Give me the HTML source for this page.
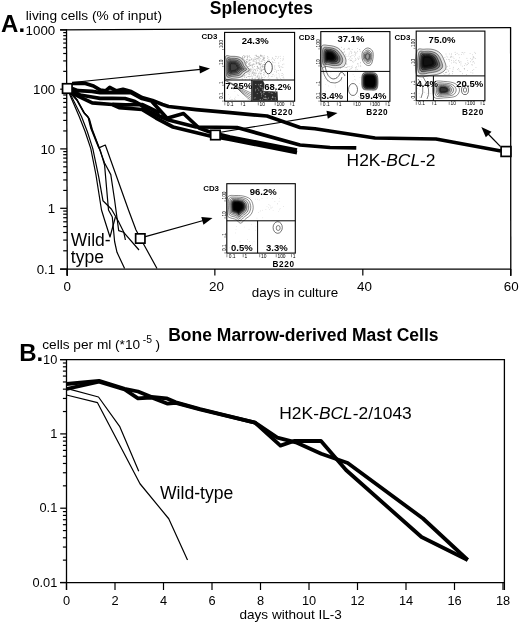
<!DOCTYPE html>
<html><head><meta charset="utf-8"><style>
html,body{margin:0;padding:0;background:#fff;width:520px;height:624px;overflow:hidden}
svg{display:block;filter:grayscale(100%)}
text{font-family:"Liberation Sans",sans-serif;fill:#000}
</style></head><body>
<svg width="520" height="624" viewBox="0 0 520 624">
<rect width="520" height="624" fill="#fff"/>
<line x1="60" y1="29.8" x2="511" y2="27.7" stroke="#000" stroke-width="1.3"/>
<line x1="66.5" y1="29.2" x2="67.3" y2="276" stroke="#000" stroke-width="1.3"/>
<line x1="60" y1="269.1" x2="511" y2="269.1" stroke="#000" stroke-width="1.3"/>
<line x1="510.6" y1="27.2" x2="510.8" y2="276" stroke="#000" stroke-width="1.3"/>
<line x1="60.2" y1="269.1" x2="67" y2="269.1" stroke="#000" stroke-width="1.25"/>
<line x1="63.2" y1="250.8" x2="67" y2="250.8" stroke="#000" stroke-width="1.2"/>
<line x1="63.2" y1="240.09" x2="67" y2="240.09" stroke="#000" stroke-width="1.2"/>
<line x1="63.2" y1="232.49" x2="67" y2="232.49" stroke="#000" stroke-width="1.2"/>
<line x1="63.2" y1="226.6" x2="67" y2="226.6" stroke="#000" stroke-width="1.2"/>
<line x1="63.2" y1="221.79" x2="67" y2="221.79" stroke="#000" stroke-width="1.2"/>
<line x1="63.2" y1="217.72" x2="67" y2="217.72" stroke="#000" stroke-width="1.2"/>
<line x1="63.2" y1="214.19" x2="67" y2="214.19" stroke="#000" stroke-width="1.2"/>
<line x1="63.2" y1="211.08" x2="67" y2="211.08" stroke="#000" stroke-width="1.2"/>
<line x1="60.2" y1="208.3" x2="67" y2="208.3" stroke="#000" stroke-width="1.25"/>
<line x1="63.2" y1="190.42" x2="67" y2="190.42" stroke="#000" stroke-width="1.2"/>
<line x1="63.2" y1="179.96" x2="67" y2="179.96" stroke="#000" stroke-width="1.2"/>
<line x1="63.2" y1="172.54" x2="67" y2="172.54" stroke="#000" stroke-width="1.2"/>
<line x1="63.2" y1="166.78" x2="67" y2="166.78" stroke="#000" stroke-width="1.2"/>
<line x1="63.2" y1="162.08" x2="67" y2="162.08" stroke="#000" stroke-width="1.2"/>
<line x1="63.2" y1="158.1" x2="67" y2="158.1" stroke="#000" stroke-width="1.2"/>
<line x1="63.2" y1="154.66" x2="67" y2="154.66" stroke="#000" stroke-width="1.2"/>
<line x1="63.2" y1="151.62" x2="67" y2="151.62" stroke="#000" stroke-width="1.2"/>
<line x1="60.2" y1="148.9" x2="67" y2="148.9" stroke="#000" stroke-width="1.25"/>
<line x1="63.2" y1="130.93" x2="67" y2="130.93" stroke="#000" stroke-width="1.2"/>
<line x1="63.2" y1="120.42" x2="67" y2="120.42" stroke="#000" stroke-width="1.2"/>
<line x1="63.2" y1="112.96" x2="67" y2="112.96" stroke="#000" stroke-width="1.2"/>
<line x1="63.2" y1="107.17" x2="67" y2="107.17" stroke="#000" stroke-width="1.2"/>
<line x1="63.2" y1="102.44" x2="67" y2="102.44" stroke="#000" stroke-width="1.2"/>
<line x1="63.2" y1="98.45" x2="67" y2="98.45" stroke="#000" stroke-width="1.2"/>
<line x1="63.2" y1="94.99" x2="67" y2="94.99" stroke="#000" stroke-width="1.2"/>
<line x1="63.2" y1="91.93" x2="67" y2="91.93" stroke="#000" stroke-width="1.2"/>
<line x1="60.2" y1="89.2" x2="67" y2="89.2" stroke="#000" stroke-width="1.25"/>
<line x1="63.2" y1="71.35" x2="67" y2="71.35" stroke="#000" stroke-width="1.2"/>
<line x1="63.2" y1="60.91" x2="67" y2="60.91" stroke="#000" stroke-width="1.2"/>
<line x1="63.2" y1="53.5" x2="67" y2="53.5" stroke="#000" stroke-width="1.2"/>
<line x1="63.2" y1="47.75" x2="67" y2="47.75" stroke="#000" stroke-width="1.2"/>
<line x1="63.2" y1="43.06" x2="67" y2="43.06" stroke="#000" stroke-width="1.2"/>
<line x1="63.2" y1="39.09" x2="67" y2="39.09" stroke="#000" stroke-width="1.2"/>
<line x1="63.2" y1="35.65" x2="67" y2="35.65" stroke="#000" stroke-width="1.2"/>
<line x1="63.2" y1="32.61" x2="67" y2="32.61" stroke="#000" stroke-width="1.2"/>
<line x1="60.2" y1="29.9" x2="67" y2="29.9" stroke="#000" stroke-width="1.25"/>
<text x="55.2" y="34.5" font-size="13.3" font-weight="normal" text-anchor="end" >1000</text>
<text x="55.2" y="93.8" font-size="13.3" font-weight="normal" text-anchor="end" >100</text>
<text x="55.2" y="153.5" font-size="13.3" font-weight="normal" text-anchor="end" >10</text>
<text x="55.2" y="212.9" font-size="13.3" font-weight="normal" text-anchor="end" >1</text>
<text x="55.2" y="273.7" font-size="13.3" font-weight="normal" text-anchor="end" >0.1</text>
<line x1="66.9" y1="269" x2="66.9" y2="275.6" stroke="#000" stroke-width="1.2"/>
<text x="67.2" y="291.4" font-size="13.4" font-weight="normal" text-anchor="middle" >0</text>
<line x1="214.86" y1="269" x2="214.86" y2="275.6" stroke="#000" stroke-width="1.2"/>
<text x="216.46" y="291.4" font-size="13.4" font-weight="normal" text-anchor="middle" >20</text>
<line x1="362.82" y1="269" x2="362.82" y2="275.6" stroke="#000" stroke-width="1.2"/>
<text x="364.42" y="291.4" font-size="13.4" font-weight="normal" text-anchor="middle" >40</text>
<line x1="510.78" y1="269" x2="510.78" y2="275.6" stroke="#000" stroke-width="1.2"/>
<text x="511.18" y="291.4" font-size="13.4" font-weight="normal" text-anchor="middle" >60</text>
<text x="251.8" y="297.2" font-size="13.4" font-weight="normal" text-anchor="start" >days in culture</text>
<text x="25.8" y="19.9" font-size="13.7" font-weight="normal" text-anchor="start" >living cells (% of input)</text>
<text x="1.1" y="31.8" font-size="24" font-weight="bold" text-anchor="start" >A.</text>
<text x="209.8" y="13.9" font-size="17.5" font-weight="bold" text-anchor="start" >Splenocytes</text>
<line x1="60" y1="359.6" x2="504.4" y2="359.6" stroke="#000" stroke-width="1.3"/>
<line x1="66.5" y1="359" x2="66.5" y2="590" stroke="#000" stroke-width="1.3"/>
<line x1="60" y1="582.6" x2="504.4" y2="582.6" stroke="#000" stroke-width="1.3"/>
<line x1="504.4" y1="359" x2="504.4" y2="590" stroke="#000" stroke-width="1.3"/>
<line x1="60.2" y1="582.5" x2="66.5" y2="582.5" stroke="#000" stroke-width="1.25"/>
<line x1="62.9" y1="560.13" x2="66.5" y2="560.13" stroke="#000" stroke-width="1.2"/>
<line x1="62.9" y1="547.05" x2="66.5" y2="547.05" stroke="#000" stroke-width="1.2"/>
<line x1="62.9" y1="537.77" x2="66.5" y2="537.77" stroke="#000" stroke-width="1.2"/>
<line x1="62.9" y1="530.57" x2="66.5" y2="530.57" stroke="#000" stroke-width="1.2"/>
<line x1="62.9" y1="524.68" x2="66.5" y2="524.68" stroke="#000" stroke-width="1.2"/>
<line x1="62.9" y1="519.71" x2="66.5" y2="519.71" stroke="#000" stroke-width="1.2"/>
<line x1="62.9" y1="515.4" x2="66.5" y2="515.4" stroke="#000" stroke-width="1.2"/>
<line x1="62.9" y1="511.6" x2="66.5" y2="511.6" stroke="#000" stroke-width="1.2"/>
<line x1="60.2" y1="508.2" x2="66.5" y2="508.2" stroke="#000" stroke-width="1.25"/>
<line x1="62.9" y1="485.83" x2="66.5" y2="485.83" stroke="#000" stroke-width="1.2"/>
<line x1="62.9" y1="472.75" x2="66.5" y2="472.75" stroke="#000" stroke-width="1.2"/>
<line x1="62.9" y1="463.47" x2="66.5" y2="463.47" stroke="#000" stroke-width="1.2"/>
<line x1="62.9" y1="456.27" x2="66.5" y2="456.27" stroke="#000" stroke-width="1.2"/>
<line x1="62.9" y1="450.38" x2="66.5" y2="450.38" stroke="#000" stroke-width="1.2"/>
<line x1="62.9" y1="445.41" x2="66.5" y2="445.41" stroke="#000" stroke-width="1.2"/>
<line x1="62.9" y1="441.1" x2="66.5" y2="441.1" stroke="#000" stroke-width="1.2"/>
<line x1="62.9" y1="437.3" x2="66.5" y2="437.3" stroke="#000" stroke-width="1.2"/>
<line x1="60.2" y1="433.9" x2="66.5" y2="433.9" stroke="#000" stroke-width="1.25"/>
<line x1="62.9" y1="411.53" x2="66.5" y2="411.53" stroke="#000" stroke-width="1.2"/>
<line x1="62.9" y1="398.45" x2="66.5" y2="398.45" stroke="#000" stroke-width="1.2"/>
<line x1="62.9" y1="389.17" x2="66.5" y2="389.17" stroke="#000" stroke-width="1.2"/>
<line x1="62.9" y1="381.97" x2="66.5" y2="381.97" stroke="#000" stroke-width="1.2"/>
<line x1="62.9" y1="376.08" x2="66.5" y2="376.08" stroke="#000" stroke-width="1.2"/>
<line x1="62.9" y1="371.11" x2="66.5" y2="371.11" stroke="#000" stroke-width="1.2"/>
<line x1="62.9" y1="366.8" x2="66.5" y2="366.8" stroke="#000" stroke-width="1.2"/>
<line x1="62.9" y1="363" x2="66.5" y2="363" stroke="#000" stroke-width="1.2"/>
<line x1="60.2" y1="359.6" x2="66.5" y2="359.6" stroke="#000" stroke-width="1.25"/>
<text x="57.3" y="363.7" font-size="12.8" font-weight="normal" text-anchor="end" >10</text>
<text x="57.3" y="438" font-size="12.8" font-weight="normal" text-anchor="end" >1</text>
<text x="57.3" y="512.3" font-size="12.8" font-weight="normal" text-anchor="end" >0.1</text>
<text x="57.3" y="586.6" font-size="12.8" font-weight="normal" text-anchor="end" >0.01</text>
<line x1="66.5" y1="582.6" x2="66.5" y2="590" stroke="#000" stroke-width="1.2"/>
<text x="66.5" y="604.6" font-size="12.8" font-weight="normal" text-anchor="middle" >0</text>
<line x1="115" y1="582.6" x2="115" y2="590" stroke="#000" stroke-width="1.2"/>
<text x="115" y="604.6" font-size="12.8" font-weight="normal" text-anchor="middle" >2</text>
<line x1="163.5" y1="582.6" x2="163.5" y2="590" stroke="#000" stroke-width="1.2"/>
<text x="163.5" y="604.6" font-size="12.8" font-weight="normal" text-anchor="middle" >4</text>
<line x1="212" y1="582.6" x2="212" y2="590" stroke="#000" stroke-width="1.2"/>
<text x="212" y="604.6" font-size="12.8" font-weight="normal" text-anchor="middle" >6</text>
<line x1="260.5" y1="582.6" x2="260.5" y2="590" stroke="#000" stroke-width="1.2"/>
<text x="260.5" y="604.6" font-size="12.8" font-weight="normal" text-anchor="middle" >8</text>
<line x1="309" y1="582.6" x2="309" y2="590" stroke="#000" stroke-width="1.2"/>
<text x="309" y="604.6" font-size="12.8" font-weight="normal" text-anchor="middle" >10</text>
<line x1="357.5" y1="582.6" x2="357.5" y2="590" stroke="#000" stroke-width="1.2"/>
<text x="357.5" y="604.6" font-size="12.8" font-weight="normal" text-anchor="middle" >12</text>
<line x1="406" y1="582.6" x2="406" y2="590" stroke="#000" stroke-width="1.2"/>
<text x="406" y="604.6" font-size="12.8" font-weight="normal" text-anchor="middle" >14</text>
<line x1="454.5" y1="582.6" x2="454.5" y2="590" stroke="#000" stroke-width="1.2"/>
<text x="454.5" y="604.6" font-size="12.8" font-weight="normal" text-anchor="middle" >16</text>
<line x1="503" y1="582.6" x2="503" y2="590" stroke="#000" stroke-width="1.2"/>
<text x="503" y="604.6" font-size="12.8" font-weight="normal" text-anchor="middle" >18</text>
<text x="239.5" y="618.8" font-size="13.55" font-weight="normal" text-anchor="start" >days without IL-3</text>
<text x="42.3" y="349" font-size="13.65" font-weight="normal" text-anchor="start" >cells per ml (*10</text>
<text x="142.8" y="342.8" font-size="10.4" font-weight="normal" text-anchor="start" >-5</text>
<text x="155.6" y="349" font-size="13.65" font-weight="normal" text-anchor="start" >)</text>
<text x="19.2" y="360.6" font-size="24" font-weight="bold" text-anchor="start" >B.</text>
<text x="168.2" y="341.4" font-size="17.5" font-weight="bold" text-anchor="start" >Bone Marrow-derived Mast Cells</text>
<polyline points="72,83.5 85.5,83.4 93.5,86 100.3,90.1 105.6,90.8 109.7,87.4 116.4,90.8 123,89.4 131.2,91.5 142,97.5 152.5,100.5 162.5,104.5 168.5,106.5 196,109.6 230,112.7 267,116 300,127.5 315,128.75 375,138 436,139 501,151" fill="none" stroke="#000" stroke-width="3.7" stroke-linejoin="round" stroke-linecap="butt" />
<polyline points="72,88.5 78,90.7 92,91.3 100,92.6 110,92.3 131,92.6 142,98.5 151.5,101 167,118.3 183.5,113.5 199,128 210,132 230,137 297,150" fill="none" stroke="#000" stroke-width="3.7" stroke-linejoin="round" stroke-linecap="butt" />
<polyline points="72,91 80,95 92,97 100,98.3 112,98.3 125,98.5 135,101.5 141,105 150,112 168.5,120 196,127 237,127.5 300,145 330,147.5 356.3,147.9" fill="none" stroke="#000" stroke-width="3.7" stroke-linejoin="round" stroke-linecap="butt" />
<polyline points="72,93 82.8,98.4 92.2,102.9 112.4,104.5 119.1,107.6 142,109.5 156,118 173,127 210,136 230,139.5 297,152.6" fill="none" stroke="#000" stroke-width="3.7" stroke-linejoin="round" stroke-linecap="butt" />
<polyline points="112.4,104.3 125.8,104.9 142,104.5 160,113" fill="none" stroke="#000" stroke-width="3.7" stroke-linejoin="round" stroke-linecap="butt" />
<polyline points="69.5,94 79.3,116.8 85,131.3 90.8,148.6 95.9,174.5 101.5,210 104.6,220 110,237 115.4,217" fill="none" stroke="#000" stroke-width="1.2" stroke-linejoin="round" stroke-linecap="butt" />
<polyline points="70.3,94 81.6,116.8 87.2,131.3 92.8,148.6 98.8,177.4 103,200.8 111.5,209.2 118.5,221.5 123.8,232.3 125.4,240" fill="none" stroke="#000" stroke-width="1.2" stroke-linejoin="round" stroke-linecap="butt" />
<polyline points="71,94 76.4,99.5 83.6,112.5 88,116.8 90.8,128.4 96.6,142.8 98.8,147.9 105.3,145 128.5,210 136,230 140.4,238 143,243 157,268.5" fill="none" stroke="#000" stroke-width="1.2" stroke-linejoin="round" stroke-linecap="butt" />
<polyline points="71.6,94 77,100 84.2,113 88.7,117.8 91.6,129 97.2,143 104.6,163 110.8,174.6 114.6,200 118.7,230.6 123.7,232.3 139,250" fill="none" stroke="#000" stroke-width="1.2" stroke-linejoin="round" stroke-linecap="butt" />
<polyline points="72.2,94 77.6,100.5 84.8,113.5 89.4,118.8 92.4,129.6 97.6,143.5 100.5,151 104.6,165.4 108.5,210 112.3,217 114.6,241.5 117,252.3 124.6,268.5" fill="none" stroke="#000" stroke-width="1.2" stroke-linejoin="round" stroke-linecap="butt" />
<line x1="72.3" y1="82.5" x2="200.55" y2="69.37" stroke="#000" stroke-width="1.2"/>
<polygon points="210,68.4 199.96,73.45 199.15,65.49" fill="#000"/>
<line x1="219" y1="132.5" x2="328.13" y2="114.54" stroke="#000" stroke-width="1.2"/>
<polygon points="337.5,113 327.79,118.65 326.49,110.76" fill="#000"/>
<line x1="500.3" y1="146.3" x2="487.96" y2="133.77" stroke="#000" stroke-width="1.2"/>
<polygon points="481.3,127 491.52,131.68 485.82,137.29" fill="#000"/>
<line x1="144.5" y1="236.8" x2="203.34" y2="220.53" stroke="#000" stroke-width="1.2"/>
<polygon points="212.5,218 203.45,224.65 201.31,216.94" fill="#000"/>
<rect x="62.55" y="83.75" width="9.5" height="9.5" fill="#fff" stroke="#000" stroke-width="1.7"/>
<rect x="210.7" y="130.3" width="9.4" height="9.4" fill="#fff" stroke="#000" stroke-width="1.7"/>
<rect x="501.1" y="146.6" width="9.8" height="9.8" fill="#fff" stroke="#000" stroke-width="1.7"/>
<rect x="135.65" y="233.85" width="9.3" height="9.3" fill="#fff" stroke="#000" stroke-width="1.7"/>
<polyline points="66.5,384 99,380.8 124.6,388.8 138,391.5 151.5,397 166.4,398.3 175.8,402.3 200,409 255,422.7 280.4,445.6 294,441 321,441 346,470 421.5,537 467.7,560" fill="none" stroke="#000" stroke-width="3.8" stroke-linejoin="round" stroke-linecap="butt" />
<polyline points="66.5,389 99,381.6 124.6,389.5 138,398.3 151.5,397.5 167.7,403.7 175.8,402.8 200,409.5 255,422.7 277.3,437.7 295.8,442.3 321.2,453.8 347.7,463 423,518.5 467.7,560" fill="none" stroke="#000" stroke-width="3.8" stroke-linejoin="round" stroke-linecap="butt" />
<polyline points="66.5,388.3 98.5,397 119.6,426.3 138.75,471.25" fill="none" stroke="#000" stroke-width="1.2" stroke-linejoin="round" stroke-linecap="butt" />
<polyline points="66.5,395 97.5,402.7 140,483.75 168.75,518.75 187.5,560" fill="none" stroke="#000" stroke-width="1.2" stroke-linejoin="round" stroke-linecap="butt" />
<text x="70.8" y="245.8" font-size="17.5" font-weight="normal" text-anchor="start" >Wild-</text>
<text x="70.8" y="262.5" font-size="17.5" font-weight="normal" text-anchor="start" >type</text>
<text x="346.6" y="166.3" font-size="17.4" font-weight="normal" text-anchor="start" >H2K-<tspan font-style="italic">BCL</tspan>-2</text>
<text x="279.3" y="418.7" font-size="17.4" font-weight="normal" text-anchor="start" >H2K-<tspan font-style="italic">BCL</tspan>-2/1043</text>
<text x="160" y="498.7" font-size="17.6" font-weight="normal" text-anchor="start" >Wild-type</text>
<circle cx="247.71" cy="68.61" r="0.45" fill="#a0a0a0"/>
<circle cx="250.88" cy="70.1" r="0.45" fill="#a0a0a0"/>
<circle cx="257.02" cy="56.64" r="0.45" fill="#a0a0a0"/>
<circle cx="242.32" cy="75.94" r="0.45" fill="#a0a0a0"/>
<circle cx="248.22" cy="60.86" r="0.45" fill="#a0a0a0"/>
<circle cx="265.9" cy="66.76" r="0.45" fill="#a0a0a0"/>
<circle cx="262.08" cy="66.91" r="0.45" fill="#a0a0a0"/>
<circle cx="257.34" cy="58.77" r="0.45" fill="#a0a0a0"/>
<circle cx="257.24" cy="76.7" r="0.45" fill="#a0a0a0"/>
<circle cx="254.56" cy="73.53" r="0.45" fill="#a0a0a0"/>
<circle cx="258.11" cy="56.6" r="0.45" fill="#a0a0a0"/>
<circle cx="260.2" cy="69.78" r="0.45" fill="#a0a0a0"/>
<circle cx="249.23" cy="55.78" r="0.45" fill="#a0a0a0"/>
<circle cx="262.77" cy="66.82" r="0.45" fill="#a0a0a0"/>
<circle cx="259.25" cy="76.97" r="0.45" fill="#a0a0a0"/>
<circle cx="259.14" cy="78.03" r="0.45" fill="#a0a0a0"/>
<circle cx="251.48" cy="75.02" r="0.45" fill="#a0a0a0"/>
<circle cx="252.67" cy="78.39" r="0.45" fill="#a0a0a0"/>
<circle cx="263.09" cy="57.44" r="0.45" fill="#a0a0a0"/>
<circle cx="245.26" cy="60.42" r="0.45" fill="#a0a0a0"/>
<circle cx="265.17" cy="65.9" r="0.45" fill="#a0a0a0"/>
<circle cx="257.04" cy="62.53" r="0.45" fill="#a0a0a0"/>
<circle cx="254.17" cy="64.65" r="0.45" fill="#a0a0a0"/>
<circle cx="250.42" cy="69.63" r="0.45" fill="#a0a0a0"/>
<circle cx="256.02" cy="77.61" r="0.45" fill="#a0a0a0"/>
<circle cx="258.37" cy="78.22" r="0.45" fill="#a0a0a0"/>
<circle cx="262.55" cy="79.77" r="0.45" fill="#a0a0a0"/>
<circle cx="258.11" cy="59.08" r="0.45" fill="#a0a0a0"/>
<circle cx="262.66" cy="79.12" r="0.45" fill="#a0a0a0"/>
<circle cx="263.71" cy="69.23" r="0.45" fill="#a0a0a0"/>
<circle cx="259.13" cy="60.28" r="0.45" fill="#a0a0a0"/>
<circle cx="261.96" cy="69.34" r="0.45" fill="#a0a0a0"/>
<circle cx="248.84" cy="56.59" r="0.45" fill="#a0a0a0"/>
<circle cx="262.49" cy="79.75" r="0.45" fill="#a0a0a0"/>
<circle cx="244.12" cy="75.01" r="0.45" fill="#a0a0a0"/>
<circle cx="251.85" cy="58.77" r="0.45" fill="#a0a0a0"/>
<circle cx="249.05" cy="74.22" r="0.45" fill="#a0a0a0"/>
<circle cx="262.95" cy="56.1" r="0.45" fill="#a0a0a0"/>
<circle cx="256.75" cy="56.12" r="0.45" fill="#a0a0a0"/>
<circle cx="259.24" cy="63.27" r="0.45" fill="#a0a0a0"/>
<circle cx="263.14" cy="79.52" r="0.45" fill="#a0a0a0"/>
<circle cx="254.13" cy="79.96" r="0.45" fill="#a0a0a0"/>
<circle cx="249.43" cy="56.92" r="0.45" fill="#a0a0a0"/>
<circle cx="256.39" cy="55.78" r="0.45" fill="#a0a0a0"/>
<circle cx="246.74" cy="65.2" r="0.45" fill="#a0a0a0"/>
<circle cx="256.65" cy="58.9" r="0.45" fill="#a0a0a0"/>
<circle cx="243.02" cy="76.69" r="0.45" fill="#a0a0a0"/>
<circle cx="249.53" cy="78.97" r="0.45" fill="#a0a0a0"/>
<circle cx="263.52" cy="64.44" r="0.45" fill="#a0a0a0"/>
<circle cx="253.05" cy="68" r="0.45" fill="#a0a0a0"/>
<circle cx="257.45" cy="69.89" r="0.45" fill="#a0a0a0"/>
<circle cx="255.42" cy="70.5" r="0.45" fill="#a0a0a0"/>
<circle cx="264.57" cy="67.68" r="0.45" fill="#a0a0a0"/>
<circle cx="252.35" cy="73.01" r="0.45" fill="#a0a0a0"/>
<circle cx="247.7" cy="62.53" r="0.45" fill="#a0a0a0"/>
<circle cx="265.47" cy="68.03" r="0.45" fill="#a0a0a0"/>
<circle cx="255.16" cy="55.29" r="0.45" fill="#a0a0a0"/>
<circle cx="251.97" cy="69.5" r="0.45" fill="#a0a0a0"/>
<circle cx="242.48" cy="70.39" r="0.45" fill="#a0a0a0"/>
<circle cx="257.17" cy="56.5" r="0.45" fill="#a0a0a0"/>
<circle cx="257.06" cy="66.66" r="0.45" fill="#a0a0a0"/>
<circle cx="258.3" cy="63.81" r="0.45" fill="#a0a0a0"/>
<circle cx="258.97" cy="73.45" r="0.45" fill="#a0a0a0"/>
<circle cx="242.53" cy="56.51" r="0.45" fill="#a0a0a0"/>
<circle cx="258.22" cy="79.08" r="0.45" fill="#a0a0a0"/>
<circle cx="248.03" cy="66.41" r="0.45" fill="#a0a0a0"/>
<circle cx="256.22" cy="63" r="0.45" fill="#a0a0a0"/>
<circle cx="250.73" cy="62.82" r="0.45" fill="#a0a0a0"/>
<circle cx="250.86" cy="69.89" r="0.45" fill="#a0a0a0"/>
<circle cx="249.21" cy="64.43" r="0.45" fill="#a0a0a0"/>
<circle cx="260.53" cy="55.67" r="0.45" fill="#a0a0a0"/>
<circle cx="255.66" cy="73.38" r="0.45" fill="#a0a0a0"/>
<circle cx="249.44" cy="60.56" r="0.45" fill="#a0a0a0"/>
<circle cx="261.29" cy="60.97" r="0.45" fill="#a0a0a0"/>
<circle cx="246.5" cy="65.88" r="0.45" fill="#a0a0a0"/>
<circle cx="258.75" cy="57.55" r="0.45" fill="#a0a0a0"/>
<circle cx="249.73" cy="63.34" r="0.45" fill="#a0a0a0"/>
<circle cx="262" cy="65.96" r="0.45" fill="#a0a0a0"/>
<circle cx="262.53" cy="59.23" r="0.45" fill="#a0a0a0"/>
<circle cx="250.08" cy="71.26" r="0.45" fill="#a0a0a0"/>
<circle cx="263.24" cy="66.28" r="0.45" fill="#a0a0a0"/>
<circle cx="247.4" cy="58.02" r="0.45" fill="#a0a0a0"/>
<circle cx="254.71" cy="59.77" r="0.45" fill="#a0a0a0"/>
<circle cx="261.36" cy="75.96" r="0.45" fill="#a0a0a0"/>
<circle cx="246.41" cy="61.96" r="0.45" fill="#a0a0a0"/>
<circle cx="261.37" cy="71.05" r="0.45" fill="#a0a0a0"/>
<circle cx="261.35" cy="63.63" r="0.45" fill="#a0a0a0"/>
<circle cx="245.11" cy="62.3" r="0.45" fill="#a0a0a0"/>
<circle cx="261.05" cy="61.78" r="0.45" fill="#a0a0a0"/>
<circle cx="250.31" cy="65.42" r="0.45" fill="#a0a0a0"/>
<circle cx="252.07" cy="65.24" r="0.45" fill="#a0a0a0"/>
<circle cx="264.09" cy="58.9" r="0.45" fill="#a0a0a0"/>
<circle cx="242.11" cy="78.58" r="0.45" fill="#a0a0a0"/>
<circle cx="263.12" cy="79.67" r="0.45" fill="#a0a0a0"/>
<circle cx="252.42" cy="78.75" r="0.45" fill="#a0a0a0"/>
<circle cx="264.26" cy="60.55" r="0.45" fill="#a0a0a0"/>
<circle cx="259.89" cy="75.92" r="0.45" fill="#a0a0a0"/>
<circle cx="257.91" cy="67.98" r="0.45" fill="#a0a0a0"/>
<circle cx="248.94" cy="63.53" r="0.45" fill="#a0a0a0"/>
<circle cx="247.46" cy="56.7" r="0.45" fill="#a0a0a0"/>
<circle cx="256.13" cy="62.18" r="0.45" fill="#a0a0a0"/>
<circle cx="261.44" cy="56.13" r="0.45" fill="#a0a0a0"/>
<circle cx="263.69" cy="72.34" r="0.45" fill="#a0a0a0"/>
<circle cx="264.17" cy="77.41" r="0.45" fill="#a0a0a0"/>
<circle cx="263.59" cy="69.42" r="0.45" fill="#a0a0a0"/>
<circle cx="242.32" cy="73.63" r="0.45" fill="#a0a0a0"/>
<circle cx="246.12" cy="62.5" r="0.45" fill="#a0a0a0"/>
<circle cx="257.91" cy="68.12" r="0.45" fill="#a0a0a0"/>
<circle cx="251.93" cy="78.48" r="0.45" fill="#a0a0a0"/>
<circle cx="256.69" cy="63.53" r="0.45" fill="#a0a0a0"/>
<circle cx="248.06" cy="76.54" r="0.45" fill="#a0a0a0"/>
<circle cx="253.45" cy="74.56" r="0.45" fill="#a0a0a0"/>
<circle cx="250.44" cy="59.93" r="0.45" fill="#a0a0a0"/>
<circle cx="254.83" cy="75.42" r="0.45" fill="#a0a0a0"/>
<circle cx="246.11" cy="74.79" r="0.45" fill="#a0a0a0"/>
<circle cx="264.12" cy="75.15" r="0.45" fill="#a0a0a0"/>
<circle cx="261.76" cy="55.19" r="0.45" fill="#a0a0a0"/>
<circle cx="257.09" cy="76.56" r="0.45" fill="#a0a0a0"/>
<circle cx="243.2" cy="61.78" r="0.45" fill="#a0a0a0"/>
<circle cx="248.45" cy="68.18" r="0.45" fill="#a0a0a0"/>
<circle cx="252.15" cy="66.82" r="0.45" fill="#a0a0a0"/>
<circle cx="260.64" cy="55.05" r="0.45" fill="#a0a0a0"/>
<circle cx="243.32" cy="58.17" r="0.45" fill="#a0a0a0"/>
<circle cx="244.99" cy="56.71" r="0.45" fill="#a0a0a0"/>
<circle cx="265.39" cy="76.36" r="0.45" fill="#a0a0a0"/>
<circle cx="244.07" cy="67.55" r="0.45" fill="#a0a0a0"/>
<circle cx="249.58" cy="62.86" r="0.45" fill="#a0a0a0"/>
<circle cx="250.43" cy="71.17" r="0.45" fill="#a0a0a0"/>
<circle cx="256.08" cy="64.02" r="0.45" fill="#a0a0a0"/>
<circle cx="246.59" cy="63.22" r="0.45" fill="#a0a0a0"/>
<circle cx="244.97" cy="68.89" r="0.45" fill="#a0a0a0"/>
<circle cx="259.19" cy="64.51" r="0.45" fill="#a0a0a0"/>
<circle cx="243.92" cy="59.46" r="0.45" fill="#a0a0a0"/>
<circle cx="250.96" cy="70.11" r="0.45" fill="#a0a0a0"/>
<circle cx="260.78" cy="64.51" r="0.45" fill="#a0a0a0"/>
<circle cx="261.23" cy="70.57" r="0.45" fill="#a0a0a0"/>
<circle cx="252.36" cy="64.31" r="0.45" fill="#a0a0a0"/>
<circle cx="253.91" cy="72.57" r="0.45" fill="#a0a0a0"/>
<circle cx="252.09" cy="72.35" r="0.45" fill="#a0a0a0"/>
<circle cx="253.06" cy="61.13" r="0.45" fill="#a0a0a0"/>
<circle cx="254.86" cy="72.38" r="0.45" fill="#a0a0a0"/>
<circle cx="243.72" cy="65.62" r="0.45" fill="#a0a0a0"/>
<circle cx="252.22" cy="76.99" r="0.45" fill="#a0a0a0"/>
<circle cx="264.48" cy="64.36" r="0.45" fill="#a0a0a0"/>
<circle cx="263.55" cy="74.77" r="0.45" fill="#a0a0a0"/>
<circle cx="248.29" cy="66.6" r="0.45" fill="#a0a0a0"/>
<circle cx="244.96" cy="75.33" r="0.45" fill="#a0a0a0"/>
<circle cx="257.89" cy="77.18" r="0.45" fill="#a0a0a0"/>
<circle cx="261.02" cy="71.69" r="0.45" fill="#a0a0a0"/>
<circle cx="259.61" cy="69.1" r="0.45" fill="#a0a0a0"/>
<circle cx="244.48" cy="69.69" r="0.45" fill="#a0a0a0"/>
<circle cx="242.12" cy="58.59" r="0.45" fill="#a0a0a0"/>
<circle cx="260.58" cy="56.11" r="0.45" fill="#a0a0a0"/>
<circle cx="244.2" cy="57.48" r="0.45" fill="#a0a0a0"/>
<circle cx="263.13" cy="59.48" r="0.45" fill="#a0a0a0"/>
<circle cx="242.56" cy="76.04" r="0.45" fill="#a0a0a0"/>
<circle cx="244.91" cy="76.1" r="0.45" fill="#a0a0a0"/>
<circle cx="258.16" cy="75.9" r="0.45" fill="#a0a0a0"/>
<circle cx="264.86" cy="69.48" r="0.45" fill="#a0a0a0"/>
<circle cx="261.17" cy="55.91" r="0.45" fill="#a0a0a0"/>
<circle cx="260.42" cy="67.78" r="0.45" fill="#a0a0a0"/>
<circle cx="259.16" cy="57.67" r="0.45" fill="#a0a0a0"/>
<circle cx="259.98" cy="78.36" r="0.45" fill="#a0a0a0"/>
<circle cx="243.47" cy="63.11" r="0.45" fill="#a0a0a0"/>
<circle cx="255.54" cy="75.7" r="0.45" fill="#a0a0a0"/>
<circle cx="247.81" cy="59.49" r="0.45" fill="#a0a0a0"/>
<circle cx="248" cy="70.4" r="0.45" fill="#a0a0a0"/>
<circle cx="260.09" cy="64.84" r="0.45" fill="#a0a0a0"/>
<circle cx="250.82" cy="64.92" r="0.45" fill="#a0a0a0"/>
<circle cx="250.41" cy="65.46" r="0.45" fill="#a0a0a0"/>
<circle cx="244" cy="67.51" r="0.45" fill="#a0a0a0"/>
<circle cx="265.35" cy="65.32" r="0.45" fill="#a0a0a0"/>
<circle cx="259.94" cy="59.02" r="0.45" fill="#a0a0a0"/>
<circle cx="258.58" cy="73.9" r="0.45" fill="#a0a0a0"/>
<circle cx="258.17" cy="67.93" r="0.45" fill="#a0a0a0"/>
<circle cx="253.61" cy="71.07" r="0.45" fill="#a0a0a0"/>
<circle cx="263.54" cy="58.73" r="0.45" fill="#a0a0a0"/>
<circle cx="244.3" cy="73.7" r="0.45" fill="#a0a0a0"/>
<circle cx="264" cy="67.93" r="0.45" fill="#a0a0a0"/>
<circle cx="252.63" cy="72.97" r="0.45" fill="#a0a0a0"/>
<circle cx="246.47" cy="61.68" r="0.45" fill="#a0a0a0"/>
<circle cx="246.78" cy="69.64" r="0.45" fill="#a0a0a0"/>
<circle cx="249.56" cy="60.81" r="0.45" fill="#a0a0a0"/>
<circle cx="258.59" cy="78.84" r="0.45" fill="#a0a0a0"/>
<circle cx="249.1" cy="72.63" r="0.45" fill="#a0a0a0"/>
<circle cx="251.92" cy="76.34" r="0.45" fill="#a0a0a0"/>
<circle cx="256.03" cy="61.68" r="0.45" fill="#a0a0a0"/>
<circle cx="247.22" cy="55.58" r="0.45" fill="#a0a0a0"/>
<circle cx="253.51" cy="64.57" r="0.45" fill="#a0a0a0"/>
<circle cx="246.13" cy="64.01" r="0.45" fill="#a0a0a0"/>
<circle cx="249.73" cy="74.36" r="0.45" fill="#a0a0a0"/>
<circle cx="245.45" cy="79.78" r="0.45" fill="#a0a0a0"/>
<circle cx="253.51" cy="69.98" r="0.45" fill="#a0a0a0"/>
<circle cx="253.23" cy="75.87" r="0.45" fill="#a0a0a0"/>
<circle cx="261.72" cy="68.93" r="0.45" fill="#a0a0a0"/>
<circle cx="253.55" cy="73.02" r="0.45" fill="#a0a0a0"/>
<circle cx="262.56" cy="65.01" r="0.45" fill="#a0a0a0"/>
<circle cx="259.61" cy="79.01" r="0.45" fill="#a0a0a0"/>
<circle cx="253.22" cy="60.74" r="0.45" fill="#a0a0a0"/>
<circle cx="247.63" cy="72.94" r="0.45" fill="#a0a0a0"/>
<circle cx="258.21" cy="78.97" r="0.45" fill="#a0a0a0"/>
<circle cx="262.49" cy="61.05" r="0.45" fill="#a0a0a0"/>
<circle cx="246.55" cy="61.47" r="0.45" fill="#a0a0a0"/>
<circle cx="246.49" cy="72.62" r="0.45" fill="#a0a0a0"/>
<circle cx="262.61" cy="77.49" r="0.45" fill="#a0a0a0"/>
<circle cx="248.12" cy="76.63" r="0.45" fill="#a0a0a0"/>
<circle cx="249.52" cy="65.58" r="0.45" fill="#a0a0a0"/>
<circle cx="259.5" cy="57.15" r="0.45" fill="#a0a0a0"/>
<circle cx="244.22" cy="75.85" r="0.45" fill="#a0a0a0"/>
<circle cx="249" cy="63.92" r="0.45" fill="#a0a0a0"/>
<circle cx="255.93" cy="71.89" r="0.45" fill="#a0a0a0"/>
<circle cx="242.17" cy="63.37" r="0.45" fill="#a0a0a0"/>
<circle cx="252.47" cy="67.15" r="0.45" fill="#a0a0a0"/>
<circle cx="247.04" cy="69.63" r="0.45" fill="#a0a0a0"/>
<circle cx="264.93" cy="64.77" r="0.45" fill="#a0a0a0"/>
<circle cx="255.06" cy="57.98" r="0.45" fill="#a0a0a0"/>
<circle cx="248.59" cy="71.64" r="0.45" fill="#a0a0a0"/>
<circle cx="244.7" cy="77.18" r="0.45" fill="#a0a0a0"/>
<circle cx="263.81" cy="57.42" r="0.45" fill="#a0a0a0"/>
<circle cx="264.59" cy="64.36" r="0.45" fill="#a0a0a0"/>
<circle cx="260.54" cy="73.93" r="0.45" fill="#a0a0a0"/>
<circle cx="249.09" cy="71.9" r="0.45" fill="#a0a0a0"/>
<circle cx="257.7" cy="75.15" r="0.45" fill="#a0a0a0"/>
<circle cx="248.37" cy="73.85" r="0.45" fill="#a0a0a0"/>
<circle cx="265.07" cy="71.82" r="0.45" fill="#a0a0a0"/>
<circle cx="254.87" cy="57.83" r="0.45" fill="#a0a0a0"/>
<circle cx="253.85" cy="63.8" r="0.45" fill="#a0a0a0"/>
<circle cx="259.23" cy="71.96" r="0.45" fill="#a0a0a0"/>
<circle cx="255.59" cy="59.55" r="0.45" fill="#a0a0a0"/>
<circle cx="257.5" cy="70.77" r="0.45" fill="#a0a0a0"/>
<circle cx="246.3" cy="77.25" r="0.45" fill="#a0a0a0"/>
<circle cx="257.73" cy="58.08" r="0.45" fill="#a0a0a0"/>
<circle cx="264.36" cy="58.53" r="0.45" fill="#a0a0a0"/>
<circle cx="249.96" cy="73.01" r="0.45" fill="#a0a0a0"/>
<circle cx="256.34" cy="68.87" r="0.45" fill="#a0a0a0"/>
<circle cx="257.54" cy="66.44" r="0.45" fill="#a0a0a0"/>
<circle cx="249.5" cy="59.41" r="0.45" fill="#a0a0a0"/>
<circle cx="243.65" cy="72.9" r="0.45" fill="#a0a0a0"/>
<circle cx="260.11" cy="68.58" r="0.45" fill="#a0a0a0"/>
<circle cx="259.75" cy="63.98" r="0.45" fill="#a0a0a0"/>
<circle cx="248.38" cy="64.58" r="0.45" fill="#a0a0a0"/>
<circle cx="262.94" cy="56.05" r="0.45" fill="#a0a0a0"/>
<circle cx="254.11" cy="61.18" r="0.45" fill="#a0a0a0"/>
<circle cx="260.45" cy="63.85" r="0.45" fill="#a0a0a0"/>
<circle cx="249.99" cy="65.08" r="0.45" fill="#a0a0a0"/>
<circle cx="255" cy="74.29" r="0.45" fill="#a0a0a0"/>
<circle cx="250.47" cy="76.17" r="0.45" fill="#a0a0a0"/>
<circle cx="244.69" cy="61.76" r="0.45" fill="#a0a0a0"/>
<circle cx="244.39" cy="57.82" r="0.45" fill="#a0a0a0"/>
<circle cx="260.7" cy="73.18" r="0.45" fill="#a0a0a0"/>
<circle cx="246.44" cy="59.73" r="0.45" fill="#a0a0a0"/>
<circle cx="252" cy="73.58" r="0.45" fill="#a0a0a0"/>
<circle cx="261.58" cy="73.72" r="0.45" fill="#a0a0a0"/>
<circle cx="256.21" cy="58.66" r="0.45" fill="#a0a0a0"/>
<circle cx="251.56" cy="59.84" r="0.45" fill="#a0a0a0"/>
<circle cx="254.66" cy="69.21" r="0.45" fill="#a0a0a0"/>
<circle cx="246.85" cy="61.25" r="0.45" fill="#a0a0a0"/>
<circle cx="260.76" cy="55.75" r="0.45" fill="#a0a0a0"/>
<circle cx="261.28" cy="77.28" r="0.45" fill="#a0a0a0"/>
<circle cx="264.78" cy="64.58" r="0.45" fill="#a0a0a0"/>
<circle cx="255.26" cy="69.58" r="0.45" fill="#a0a0a0"/>
<circle cx="257.21" cy="79.42" r="0.45" fill="#a0a0a0"/>
<circle cx="258.48" cy="62.49" r="0.45" fill="#a0a0a0"/>
<circle cx="262.64" cy="67.1" r="0.45" fill="#a0a0a0"/>
<circle cx="256.43" cy="73.17" r="0.45" fill="#a0a0a0"/>
<circle cx="242.06" cy="74.26" r="0.45" fill="#a0a0a0"/>
<circle cx="257.89" cy="67.3" r="0.45" fill="#a0a0a0"/>
<circle cx="254.57" cy="66.51" r="0.45" fill="#a0a0a0"/>
<circle cx="246.64" cy="68.24" r="0.45" fill="#a0a0a0"/>
<circle cx="242.89" cy="67.51" r="0.45" fill="#a0a0a0"/>
<circle cx="257.5" cy="66.11" r="0.45" fill="#a0a0a0"/>
<circle cx="255.58" cy="78.98" r="0.45" fill="#a0a0a0"/>
<circle cx="263.41" cy="58.39" r="0.45" fill="#a0a0a0"/>
<circle cx="261.02" cy="70.58" r="0.45" fill="#a0a0a0"/>
<circle cx="243.21" cy="64" r="0.45" fill="#a0a0a0"/>
<circle cx="247.6" cy="56.95" r="0.45" fill="#a0a0a0"/>
<circle cx="254.93" cy="78.25" r="0.45" fill="#a0a0a0"/>
<circle cx="249.75" cy="76.76" r="0.45" fill="#a0a0a0"/>
<circle cx="258.67" cy="58.36" r="0.45" fill="#a0a0a0"/>
<circle cx="262.6" cy="70.03" r="0.45" fill="#a0a0a0"/>
<circle cx="264.25" cy="72.9" r="0.45" fill="#a0a0a0"/>
<circle cx="259.75" cy="63.59" r="0.45" fill="#a0a0a0"/>
<circle cx="261.36" cy="78.29" r="0.45" fill="#a0a0a0"/>
<circle cx="262.68" cy="65.93" r="0.45" fill="#a0a0a0"/>
<circle cx="260.16" cy="67.13" r="0.45" fill="#a0a0a0"/>
<circle cx="244.62" cy="56.07" r="0.45" fill="#a0a0a0"/>
<circle cx="243.87" cy="60.01" r="0.45" fill="#a0a0a0"/>
<circle cx="245.86" cy="67.43" r="0.45" fill="#a0a0a0"/>
<circle cx="258.78" cy="68.44" r="0.45" fill="#a0a0a0"/>
<circle cx="252.13" cy="71.23" r="0.45" fill="#a0a0a0"/>
<circle cx="249.31" cy="66.61" r="0.45" fill="#a0a0a0"/>
<circle cx="260.17" cy="65.04" r="0.45" fill="#a0a0a0"/>
<circle cx="246.33" cy="77.49" r="0.45" fill="#a0a0a0"/>
<circle cx="259.27" cy="64.17" r="0.45" fill="#a0a0a0"/>
<circle cx="250.9" cy="68.23" r="0.45" fill="#a0a0a0"/>
<circle cx="256.32" cy="60.6" r="0.45" fill="#a0a0a0"/>
<circle cx="242.06" cy="60.22" r="0.45" fill="#a0a0a0"/>
<circle cx="260.8" cy="58.59" r="0.45" fill="#a0a0a0"/>
<circle cx="253.04" cy="59.88" r="0.45" fill="#a0a0a0"/>
<circle cx="247.02" cy="59.27" r="0.45" fill="#a0a0a0"/>
<circle cx="251.69" cy="59.21" r="0.45" fill="#a0a0a0"/>
<circle cx="242.66" cy="57.75" r="0.45" fill="#a0a0a0"/>
<circle cx="246.04" cy="67.26" r="0.45" fill="#a0a0a0"/>
<circle cx="243.43" cy="55.56" r="0.45" fill="#a0a0a0"/>
<circle cx="252.75" cy="65.19" r="0.45" fill="#a0a0a0"/>
<circle cx="258.88" cy="56.28" r="0.45" fill="#a0a0a0"/>
<circle cx="251.68" cy="64.92" r="0.45" fill="#a0a0a0"/>
<circle cx="242.64" cy="79.14" r="0.45" fill="#a0a0a0"/>
<circle cx="247.25" cy="57.36" r="0.45" fill="#a0a0a0"/>
<circle cx="253.39" cy="59.12" r="0.45" fill="#a0a0a0"/>
<circle cx="256.94" cy="63.66" r="0.45" fill="#a0a0a0"/>
<circle cx="244.97" cy="56.3" r="0.45" fill="#a0a0a0"/>
<circle cx="259.46" cy="61.88" r="0.45" fill="#a0a0a0"/>
<circle cx="260.91" cy="66.64" r="0.45" fill="#a0a0a0"/>
<circle cx="264.39" cy="62.51" r="0.45" fill="#a0a0a0"/>
<circle cx="248" cy="61.65" r="0.45" fill="#a0a0a0"/>
<circle cx="261.55" cy="70.73" r="0.45" fill="#a0a0a0"/>
<circle cx="250.27" cy="57.34" r="0.45" fill="#a0a0a0"/>
<circle cx="258.38" cy="79.23" r="0.45" fill="#a0a0a0"/>
<circle cx="256.21" cy="55.09" r="0.45" fill="#a0a0a0"/>
<circle cx="242.73" cy="57.26" r="0.45" fill="#a0a0a0"/>
<circle cx="246.09" cy="55.92" r="0.45" fill="#a0a0a0"/>
<circle cx="243.29" cy="71.36" r="0.45" fill="#a0a0a0"/>
<circle cx="263.61" cy="60.02" r="0.45" fill="#a0a0a0"/>
<circle cx="265.37" cy="66.92" r="0.45" fill="#a0a0a0"/>
<circle cx="261.29" cy="77.93" r="0.45" fill="#a0a0a0"/>
<circle cx="264.56" cy="55.86" r="0.45" fill="#a0a0a0"/>
<circle cx="249.31" cy="70.17" r="0.45" fill="#a0a0a0"/>
<circle cx="264.72" cy="57.19" r="0.45" fill="#a0a0a0"/>
<circle cx="249.04" cy="76.25" r="0.45" fill="#a0a0a0"/>
<circle cx="266.29" cy="65.36" r="0.42" fill="#b8b8b8"/>
<circle cx="270.68" cy="72.32" r="0.42" fill="#b8b8b8"/>
<circle cx="282.57" cy="60.19" r="0.42" fill="#b8b8b8"/>
<circle cx="278.8" cy="73.61" r="0.42" fill="#b8b8b8"/>
<circle cx="280.71" cy="69.28" r="0.42" fill="#b8b8b8"/>
<circle cx="282.47" cy="64.71" r="0.42" fill="#b8b8b8"/>
<circle cx="272.29" cy="61.51" r="0.42" fill="#b8b8b8"/>
<circle cx="279.59" cy="67.53" r="0.42" fill="#b8b8b8"/>
<circle cx="269.39" cy="60.07" r="0.42" fill="#b8b8b8"/>
<circle cx="278.41" cy="70.54" r="0.42" fill="#b8b8b8"/>
<circle cx="278.21" cy="65.28" r="0.42" fill="#b8b8b8"/>
<circle cx="273.74" cy="59.69" r="0.42" fill="#b8b8b8"/>
<circle cx="278.21" cy="56.55" r="0.42" fill="#b8b8b8"/>
<circle cx="273.34" cy="74.2" r="0.42" fill="#b8b8b8"/>
<circle cx="277.55" cy="58.33" r="0.42" fill="#b8b8b8"/>
<circle cx="268.74" cy="76.25" r="0.42" fill="#b8b8b8"/>
<circle cx="276.85" cy="77.08" r="0.42" fill="#b8b8b8"/>
<circle cx="281.45" cy="66.8" r="0.42" fill="#b8b8b8"/>
<circle cx="281.94" cy="73.59" r="0.42" fill="#b8b8b8"/>
<circle cx="270.67" cy="64.88" r="0.42" fill="#b8b8b8"/>
<circle cx="265.44" cy="65.58" r="0.42" fill="#b8b8b8"/>
<circle cx="283.11" cy="58.52" r="0.42" fill="#b8b8b8"/>
<circle cx="275.38" cy="58.64" r="0.42" fill="#b8b8b8"/>
<circle cx="265.62" cy="71.58" r="0.42" fill="#b8b8b8"/>
<circle cx="268.81" cy="57.17" r="0.42" fill="#b8b8b8"/>
<circle cx="267.05" cy="71.47" r="0.42" fill="#b8b8b8"/>
<circle cx="275.71" cy="56.28" r="0.42" fill="#b8b8b8"/>
<circle cx="268.6" cy="79.21" r="0.42" fill="#b8b8b8"/>
<circle cx="268.4" cy="69.5" r="0.42" fill="#b8b8b8"/>
<circle cx="272.39" cy="74.75" r="0.42" fill="#b8b8b8"/>
<circle cx="276.09" cy="74.93" r="0.42" fill="#b8b8b8"/>
<circle cx="274.7" cy="60.52" r="0.42" fill="#b8b8b8"/>
<circle cx="267.55" cy="57.9" r="0.42" fill="#b8b8b8"/>
<circle cx="280.51" cy="58.7" r="0.42" fill="#b8b8b8"/>
<circle cx="264.48" cy="79.19" r="0.42" fill="#b8b8b8"/>
<circle cx="267.99" cy="77.44" r="0.42" fill="#b8b8b8"/>
<circle cx="265.72" cy="67.17" r="0.42" fill="#b8b8b8"/>
<circle cx="268.46" cy="75.91" r="0.42" fill="#b8b8b8"/>
<circle cx="276.31" cy="71.4" r="0.42" fill="#b8b8b8"/>
<circle cx="279.23" cy="76.92" r="0.42" fill="#b8b8b8"/>
<circle cx="270.92" cy="70.47" r="0.42" fill="#b8b8b8"/>
<circle cx="272.91" cy="58.66" r="0.42" fill="#b8b8b8"/>
<circle cx="280.71" cy="70.27" r="0.42" fill="#b8b8b8"/>
<circle cx="280.3" cy="60.94" r="0.42" fill="#b8b8b8"/>
<circle cx="274.78" cy="67.14" r="0.42" fill="#b8b8b8"/>
<circle cx="278.56" cy="57.85" r="0.42" fill="#b8b8b8"/>
<circle cx="270.92" cy="67.63" r="0.42" fill="#b8b8b8"/>
<circle cx="265.43" cy="69.26" r="0.42" fill="#b8b8b8"/>
<circle cx="278.71" cy="66.15" r="0.42" fill="#b8b8b8"/>
<circle cx="276.97" cy="70.54" r="0.42" fill="#b8b8b8"/>
<circle cx="268.28" cy="64.41" r="0.42" fill="#b8b8b8"/>
<circle cx="283.91" cy="64.04" r="0.42" fill="#b8b8b8"/>
<circle cx="272.62" cy="58.02" r="0.42" fill="#b8b8b8"/>
<circle cx="268.36" cy="59.97" r="0.42" fill="#b8b8b8"/>
<circle cx="282.62" cy="73.43" r="0.42" fill="#b8b8b8"/>
<circle cx="281.49" cy="79.68" r="0.42" fill="#b8b8b8"/>
<circle cx="276.24" cy="78.35" r="0.42" fill="#b8b8b8"/>
<circle cx="274.71" cy="66.05" r="0.42" fill="#b8b8b8"/>
<circle cx="282.96" cy="77.67" r="0.42" fill="#b8b8b8"/>
<circle cx="282.99" cy="67.62" r="0.42" fill="#b8b8b8"/>
<circle cx="279.47" cy="65.77" r="0.42" fill="#b8b8b8"/>
<circle cx="283.95" cy="78.09" r="0.42" fill="#b8b8b8"/>
<circle cx="269.84" cy="78.42" r="0.42" fill="#b8b8b8"/>
<circle cx="267.69" cy="58.3" r="0.42" fill="#b8b8b8"/>
<circle cx="278.45" cy="63.06" r="0.42" fill="#b8b8b8"/>
<circle cx="274.39" cy="71.34" r="0.42" fill="#b8b8b8"/>
<circle cx="264.81" cy="73.88" r="0.42" fill="#b8b8b8"/>
<circle cx="269.52" cy="66.38" r="0.42" fill="#b8b8b8"/>
<circle cx="270.9" cy="73.81" r="0.42" fill="#b8b8b8"/>
<circle cx="278.94" cy="62.9" r="0.42" fill="#b8b8b8"/>
<circle cx="266.07" cy="63.18" r="0.42" fill="#b8b8b8"/>
<circle cx="272.22" cy="57.86" r="0.42" fill="#b8b8b8"/>
<circle cx="267.06" cy="74.31" r="0.42" fill="#b8b8b8"/>
<circle cx="278.01" cy="79.43" r="0.42" fill="#b8b8b8"/>
<circle cx="283.59" cy="77.03" r="0.42" fill="#b8b8b8"/>
<circle cx="271.45" cy="59.87" r="0.42" fill="#b8b8b8"/>
<circle cx="270.24" cy="67.12" r="0.42" fill="#b8b8b8"/>
<circle cx="274.52" cy="69.01" r="0.42" fill="#b8b8b8"/>
<circle cx="271.19" cy="76.46" r="0.42" fill="#b8b8b8"/>
<circle cx="269.7" cy="67.12" r="0.42" fill="#b8b8b8"/>
<circle cx="281.74" cy="75.37" r="0.42" fill="#b8b8b8"/>
<circle cx="269.95" cy="61.82" r="0.42" fill="#b8b8b8"/>
<circle cx="280.13" cy="56.24" r="0.42" fill="#b8b8b8"/>
<circle cx="266.63" cy="68.74" r="0.42" fill="#b8b8b8"/>
<circle cx="274.72" cy="59.98" r="0.42" fill="#b8b8b8"/>
<circle cx="265.01" cy="60.89" r="0.42" fill="#b8b8b8"/>
<circle cx="279.4" cy="67.18" r="0.42" fill="#b8b8b8"/>
<circle cx="283.59" cy="74.85" r="0.42" fill="#b8b8b8"/>
<circle cx="283.58" cy="56.84" r="0.42" fill="#b8b8b8"/>
<circle cx="267.7" cy="56.32" r="0.42" fill="#b8b8b8"/>
<circle cx="272.65" cy="64.12" r="0.42" fill="#b8b8b8"/>
<circle cx="265.03" cy="69.1" r="0.42" fill="#b8b8b8"/>
<circle cx="265.88" cy="63.48" r="0.42" fill="#b8b8b8"/>
<circle cx="268.94" cy="75.25" r="0.42" fill="#b8b8b8"/>
<circle cx="272.36" cy="62.25" r="0.42" fill="#b8b8b8"/>
<circle cx="264.88" cy="66.31" r="0.42" fill="#b8b8b8"/>
<circle cx="276.55" cy="72.21" r="0.42" fill="#b8b8b8"/>
<circle cx="282.25" cy="75.41" r="0.42" fill="#b8b8b8"/>
<circle cx="268.95" cy="59.26" r="0.42" fill="#b8b8b8"/>
<circle cx="279.17" cy="74.95" r="0.42" fill="#b8b8b8"/>
<circle cx="274.18" cy="75.94" r="0.42" fill="#b8b8b8"/>
<circle cx="275.04" cy="62.71" r="0.42" fill="#b8b8b8"/>
<circle cx="267.37" cy="56.41" r="0.42" fill="#b8b8b8"/>
<circle cx="276.86" cy="77.53" r="0.42" fill="#b8b8b8"/>
<circle cx="282.12" cy="67.22" r="0.42" fill="#b8b8b8"/>
<circle cx="277.31" cy="78.29" r="0.42" fill="#b8b8b8"/>
<circle cx="280.28" cy="70.46" r="0.42" fill="#b8b8b8"/>
<circle cx="272.29" cy="68.44" r="0.42" fill="#b8b8b8"/>
<circle cx="267.42" cy="60.39" r="0.42" fill="#b8b8b8"/>
<circle cx="277.68" cy="79.81" r="0.42" fill="#b8b8b8"/>
<circle cx="274.94" cy="65.8" r="0.42" fill="#b8b8b8"/>
<circle cx="271.04" cy="66.92" r="0.42" fill="#b8b8b8"/>
<circle cx="280.06" cy="66.86" r="0.42" fill="#b8b8b8"/>
<circle cx="283.19" cy="59.73" r="0.42" fill="#b8b8b8"/>
<circle cx="270.3" cy="68.53" r="0.42" fill="#b8b8b8"/>
<circle cx="272.24" cy="76.43" r="0.42" fill="#b8b8b8"/>
<circle cx="280.55" cy="78.35" r="0.42" fill="#b8b8b8"/>
<circle cx="276.25" cy="56.73" r="0.42" fill="#b8b8b8"/>
<circle cx="275.49" cy="69.19" r="0.42" fill="#b8b8b8"/>
<circle cx="273.75" cy="62.72" r="0.42" fill="#b8b8b8"/>
<path d="M225.3,57.5 C226.25,53.88 228.72,56.38 231,56.3 C233.28,56.22 236.83,56.3 239,57 C241.17,57.7 242.83,59.08 244,60.5 C245.17,61.92 245.08,63.92 246,65.5 C246.92,67.08 249.67,68.75 249.5,70 C249.33,71.25 246.42,71.83 245,73 C243.58,74.17 243,76.12 241,77 C239,77.88 235.62,78.13 233,78.3 C230.38,78.47 226.58,81.47 225.3,78 C224.02,74.53 224.35,61.12 225.3,57.5Z" fill="#d8d8d8" stroke="#000" stroke-width="0.45"/>
<path d="M226.69,59.21 C227.47,56.24 229.49,58.29 231.36,58.23 C233.23,58.16 236.14,58.23 237.92,58.8 C239.7,59.37 241.06,60.51 242.02,61.67 C242.98,62.83 242.91,64.47 243.66,65.77 C244.41,67.07 246.67,68.43 246.53,69.46 C246.39,70.48 244,70.96 242.84,71.92 C241.68,72.88 241.2,74.48 239.56,75.2 C237.92,75.92 235.15,76.13 233,76.27 C230.85,76.4 227.74,78.86 226.69,76.02 C225.63,73.18 225.91,62.18 226.69,59.21Z" fill="#a8a8a8" stroke="#000" stroke-width="0.45"/>
<path d="M227.82,60.61 C228.46,58.18 230.12,59.86 231.66,59.81 C233.19,59.75 235.58,59.81 237.03,60.28 C238.49,60.75 239.61,61.68 240.4,62.63 C241.18,63.58 241.12,64.93 241.74,65.99 C242.36,67.06 244.21,68.18 244.09,69.02 C243.98,69.86 242.02,70.25 241.07,71.03 C240.12,71.82 239.72,73.13 238.38,73.72 C237.03,74.32 234.76,74.49 233,74.6 C231.24,74.71 228.69,76.73 227.82,74.4 C226.96,72.07 227.18,63.04 227.82,60.61Z" fill="#888" stroke="#000" stroke-width="0.45"/>
<path d="M228.75,61.76 C229.28,59.77 230.64,61.15 231.9,61.1 C233.16,61.05 235.11,61.1 236.31,61.49 C237.5,61.87 238.42,62.64 239.07,63.42 C239.71,64.2 239.66,65.3 240.17,66.17 C240.67,67.05 242.19,67.96 242.1,68.65 C242.01,69.34 240.4,69.66 239.62,70.31 C238.84,70.95 238.51,72.03 237.41,72.51 C236.31,73 234.44,73.14 233,73.23 C231.56,73.32 229.46,74.98 228.75,73.07 C228.05,71.15 228.23,63.76 228.75,61.76Z" fill="#6a6a6a" stroke="#000" stroke-width="0.45"/>
<path d="M229.52,62.7 C229.95,61.07 231.06,62.2 232.1,62.16 C233.13,62.12 234.73,62.16 235.71,62.48 C236.69,62.8 237.45,63.42 237.97,64.06 C238.5,64.7 238.46,65.61 238.88,66.32 C239.29,67.04 240.54,67.79 240.46,68.36 C240.38,68.92 239.07,69.19 238.43,69.71 C237.78,70.24 237.52,71.12 236.62,71.52 C235.71,71.92 234.18,72.03 233,72.11 C231.82,72.18 230.1,73.54 229.52,71.97 C228.94,70.41 229.09,64.34 229.52,62.7Z" fill="#555" stroke="#000" stroke-width="0.45"/>
<path d="M230.15,63.48 C230.5,62.14 231.41,63.06 232.26,63.03 C233.11,63 234.42,63.03 235.22,63.29 C236.03,63.55 236.65,64.06 237.08,64.59 C237.51,65.12 237.48,65.86 237.82,66.44 C238.16,67.03 239.18,67.65 239.12,68.11 C239.06,68.58 237.97,68.79 237.45,69.22 C236.92,69.66 236.71,70.38 235.97,70.71 C235.22,71.03 233.97,71.13 233,71.19 C232.03,71.25 230.62,72.36 230.15,71.08 C229.67,69.79 229.79,64.82 230.15,63.48Z" fill="#4a4a4a" stroke="#000" stroke-width="0.45"/>
<path d="M230.66,64.11 C230.95,63.01 231.7,63.77 232.39,63.75 C233.09,63.72 234.17,63.75 234.82,63.96 C235.48,64.17 235.99,64.59 236.34,65.02 C236.7,65.45 236.67,66.06 236.95,66.54 C237.23,67.03 238.07,67.53 238.02,67.91 C237.97,68.29 237.08,68.47 236.65,68.82 C236.22,69.18 236.04,69.77 235.43,70.04 C234.82,70.31 233.8,70.38 233,70.44 C232.2,70.49 231.05,71.4 230.66,70.34 C230.27,69.29 230.37,65.21 230.66,64.11Z" fill="#404040" stroke="#000" stroke-width="0.45"/>
<ellipse cx="268.5" cy="67.6" rx="3.8" ry="6.2" fill="#fff" stroke="#000" stroke-width="0.65" opacity="1"/>
<path d="M225,80.5 Q236,86 251,93" fill="none" stroke="#333" stroke-width="0.5"/>
<path d="M227.2,81.3 Q238,88.6 251,94.8" fill="none" stroke="#333" stroke-width="0.5"/>
<path d="M229.4,82.1 Q240,91.2 251,96.6" fill="none" stroke="#333" stroke-width="0.5"/>
<path d="M231.6,82.9 Q242,93.8 251,98.4" fill="none" stroke="#333" stroke-width="0.5"/>
<path d="M233.8,83.7 Q244,96.4 251,100.2" fill="none" stroke="#333" stroke-width="0.5"/>
<circle cx="243.03" cy="98.5" r="0.35" fill="#bbb"/>
<circle cx="228.46" cy="94.37" r="0.35" fill="#bbb"/>
<circle cx="234.91" cy="91.75" r="0.35" fill="#bbb"/>
<circle cx="247.5" cy="99.33" r="0.35" fill="#bbb"/>
<circle cx="241.45" cy="86.32" r="0.35" fill="#bbb"/>
<circle cx="248.1" cy="86.08" r="0.35" fill="#bbb"/>
<circle cx="235.2" cy="97.08" r="0.35" fill="#bbb"/>
<circle cx="233.59" cy="87.61" r="0.35" fill="#bbb"/>
<circle cx="248.8" cy="99.04" r="0.35" fill="#bbb"/>
<circle cx="233.62" cy="89.67" r="0.35" fill="#bbb"/>
<circle cx="232.77" cy="85.24" r="0.35" fill="#bbb"/>
<circle cx="232.01" cy="99.66" r="0.35" fill="#bbb"/>
<circle cx="227.9" cy="86.91" r="0.35" fill="#bbb"/>
<circle cx="230.8" cy="84.35" r="0.35" fill="#bbb"/>
<circle cx="238.63" cy="95.63" r="0.35" fill="#bbb"/>
<circle cx="246.12" cy="93.73" r="0.35" fill="#bbb"/>
<circle cx="245.63" cy="83.09" r="0.35" fill="#bbb"/>
<circle cx="232.77" cy="99.34" r="0.35" fill="#bbb"/>
<circle cx="227.67" cy="87.55" r="0.35" fill="#bbb"/>
<circle cx="237.59" cy="87.55" r="0.35" fill="#bbb"/>
<circle cx="239.11" cy="83.8" r="0.35" fill="#bbb"/>
<circle cx="231.66" cy="99.28" r="0.35" fill="#bbb"/>
<circle cx="229.46" cy="98.39" r="0.35" fill="#bbb"/>
<circle cx="230.27" cy="99.88" r="0.35" fill="#bbb"/>
<circle cx="242.19" cy="94" r="0.35" fill="#bbb"/>
<circle cx="229.41" cy="83.93" r="0.35" fill="#bbb"/>
<circle cx="244.23" cy="85.99" r="0.35" fill="#bbb"/>
<circle cx="230.55" cy="96.99" r="0.35" fill="#bbb"/>
<circle cx="247" cy="83.83" r="0.35" fill="#bbb"/>
<circle cx="249.06" cy="92.09" r="0.35" fill="#bbb"/>
<circle cx="235.18" cy="84.82" r="0.35" fill="#bbb"/>
<circle cx="235.36" cy="99.79" r="0.35" fill="#bbb"/>
<circle cx="232.74" cy="85.23" r="0.35" fill="#bbb"/>
<circle cx="229.49" cy="85.16" r="0.35" fill="#bbb"/>
<circle cx="234.46" cy="98.55" r="0.35" fill="#bbb"/>
<circle cx="227.85" cy="86.26" r="0.35" fill="#bbb"/>
<circle cx="248.54" cy="99.95" r="0.35" fill="#bbb"/>
<circle cx="249.52" cy="87.18" r="0.35" fill="#bbb"/>
<circle cx="234.5" cy="99.16" r="0.35" fill="#bbb"/>
<circle cx="237.64" cy="94.96" r="0.35" fill="#bbb"/>
<path d="M252.3,80.5 L263,80.5 L264.5,84 L263.5,91 L277.5,91.5 L278,100.8 L252.3,100.8 Z" fill="#2a2a2a"/>
<circle cx="260.89" cy="84.34" r="0.5" fill="#999"/>
<circle cx="261.6" cy="95.97" r="0.5" fill="#999"/>
<circle cx="271.2" cy="93.1" r="0.5" fill="#999"/>
<circle cx="264.21" cy="92.61" r="0.5" fill="#999"/>
<circle cx="263.73" cy="92.55" r="0.5" fill="#999"/>
<circle cx="272.33" cy="87.21" r="0.5" fill="#999"/>
<circle cx="267.07" cy="98.92" r="0.5" fill="#999"/>
<circle cx="272.66" cy="86.87" r="0.5" fill="#999"/>
<circle cx="275.2" cy="97.44" r="0.5" fill="#999"/>
<circle cx="257.69" cy="88.25" r="0.5" fill="#999"/>
<circle cx="258.45" cy="84.85" r="0.5" fill="#999"/>
<circle cx="275.52" cy="90.55" r="0.5" fill="#999"/>
<circle cx="273.2" cy="85.83" r="0.5" fill="#999"/>
<circle cx="254.31" cy="97.92" r="0.5" fill="#999"/>
<circle cx="271.47" cy="99.86" r="0.5" fill="#999"/>
<circle cx="269.08" cy="92.4" r="0.5" fill="#999"/>
<circle cx="270.85" cy="85.48" r="0.5" fill="#999"/>
<circle cx="265.89" cy="91.06" r="0.5" fill="#999"/>
<circle cx="257.22" cy="93.61" r="0.5" fill="#999"/>
<circle cx="261.11" cy="92.1" r="0.5" fill="#999"/>
<circle cx="262.22" cy="89.09" r="0.5" fill="#999"/>
<circle cx="261.89" cy="93.62" r="0.5" fill="#999"/>
<circle cx="275.57" cy="98.98" r="0.5" fill="#999"/>
<circle cx="272.97" cy="97.36" r="0.5" fill="#999"/>
<circle cx="260.31" cy="99.63" r="0.5" fill="#999"/>
<circle cx="259.93" cy="85.97" r="0.5" fill="#999"/>
<circle cx="265.02" cy="95.72" r="0.5" fill="#999"/>
<circle cx="261.5" cy="94.32" r="0.5" fill="#999"/>
<circle cx="260.21" cy="99.47" r="0.5" fill="#999"/>
<circle cx="263.96" cy="91.65" r="0.5" fill="#999"/>
<circle cx="265.69" cy="98" r="0.5" fill="#999"/>
<circle cx="275.7" cy="92.46" r="0.5" fill="#999"/>
<circle cx="263.71" cy="93.88" r="0.5" fill="#999"/>
<circle cx="255.52" cy="90.81" r="0.5" fill="#999"/>
<circle cx="272.64" cy="96.44" r="0.5" fill="#999"/>
<circle cx="255.31" cy="97.67" r="0.5" fill="#999"/>
<circle cx="262.45" cy="99.7" r="0.5" fill="#999"/>
<circle cx="262.07" cy="87.43" r="0.5" fill="#999"/>
<circle cx="266.07" cy="98.14" r="0.5" fill="#999"/>
<circle cx="263.48" cy="97.88" r="0.5" fill="#999"/>
<circle cx="269.65" cy="89.78" r="0.45" fill="#fff"/>
<circle cx="260.61" cy="92.09" r="0.45" fill="#fff"/>
<circle cx="262.78" cy="89.96" r="0.45" fill="#fff"/>
<circle cx="268.34" cy="98" r="0.45" fill="#fff"/>
<circle cx="266.86" cy="86.34" r="0.45" fill="#fff"/>
<circle cx="258.84" cy="89.93" r="0.45" fill="#fff"/>
<circle cx="267.52" cy="86.23" r="0.45" fill="#fff"/>
<circle cx="255.79" cy="89.13" r="0.45" fill="#fff"/>
<circle cx="260.23" cy="84.47" r="0.45" fill="#fff"/>
<circle cx="265.85" cy="98.74" r="0.45" fill="#fff"/>
<circle cx="265.76" cy="95.8" r="0.45" fill="#fff"/>
<circle cx="272.23" cy="97.4" r="0.45" fill="#fff"/>
<circle cx="274.09" cy="91.06" r="0.45" fill="#fff"/>
<circle cx="269.01" cy="85.93" r="0.45" fill="#fff"/>
<circle cx="273.36" cy="90.05" r="0.45" fill="#fff"/>
<circle cx="264.46" cy="98.24" r="0.45" fill="#fff"/>
<circle cx="260.31" cy="87.04" r="0.45" fill="#fff"/>
<circle cx="272.12" cy="93.58" r="0.45" fill="#fff"/>
<circle cx="255.87" cy="84.45" r="0.45" fill="#fff"/>
<circle cx="261.73" cy="84.12" r="0.45" fill="#fff"/>
<rect x="224.6" y="32.4" width="70" height="68.8" fill="none" stroke="#000" stroke-width="1.1"/>
<line x1="224.6" y1="80" x2="294.6" y2="80" stroke="#000" stroke-width="1.0"/>
<line x1="251.8" y1="80" x2="251.8" y2="101.2" stroke="#000" stroke-width="1.0"/>
<text x="201.5" y="38.6" font-size="7.9" font-weight="bold" text-anchor="start" >CD3</text>
<text x="271.2" y="115.2" font-size="8.2" font-weight="bold" letter-spacing="0.6">B220</text>
<text x="0" y="0" font-size="4.8" transform="translate(223.3 95.7) rotate(-90)" text-anchor="middle">0.1</text>
<line x1="222" y1="101.1" x2="223.8" y2="101.1" stroke="#000" stroke-width="0.45"/>
<text x="0" y="0" font-size="4.8" transform="translate(223.3 82.62) rotate(-90)" text-anchor="middle">1</text>
<line x1="222" y1="85.22" x2="223.8" y2="85.22" stroke="#000" stroke-width="0.45"/>
<text x="0" y="0" font-size="4.8" transform="translate(223.3 62.33) rotate(-90)" text-anchor="middle">10</text>
<line x1="222" y1="66.33" x2="223.8" y2="66.33" stroke="#000" stroke-width="0.45"/>
<text x="0" y="0" font-size="4.8" transform="translate(223.3 44.1) rotate(-90)" text-anchor="middle">100</text>
<line x1="222" y1="49.5" x2="223.8" y2="49.5" stroke="#000" stroke-width="0.45"/>
<text x="230.1" y="105.9" font-size="4.9" font-weight="normal" text-anchor="middle" >0.1</text>
<line x1="224.8" y1="102.2" x2="224.8" y2="105.4" stroke="#000" stroke-width="0.45"/>
<text x="244.1" y="105.9" font-size="4.9" font-weight="normal" text-anchor="middle" >1</text>
<line x1="241.4" y1="102.2" x2="241.4" y2="105.4" stroke="#000" stroke-width="0.45"/>
<text x="262.3" y="105.9" font-size="4.9" font-weight="normal" text-anchor="middle" >10</text>
<line x1="258.3" y1="102.2" x2="258.3" y2="105.4" stroke="#000" stroke-width="0.45"/>
<text x="280.5" y="105.9" font-size="4.9" font-weight="normal" text-anchor="middle" >100</text>
<line x1="275.2" y1="102.2" x2="275.2" y2="105.4" stroke="#000" stroke-width="0.45"/>
<text x="293.45" y="105.9" font-size="4.9" font-weight="normal" text-anchor="middle" >1</text>
<line x1="290.75" y1="102.2" x2="290.75" y2="105.4" stroke="#000" stroke-width="0.45"/>
<text x="241.8" y="43.6" font-size="9.5" font-weight="bold" text-anchor="start" >24.3%</text>
<text x="225.2" y="88.6" font-size="9.5" font-weight="bold" text-anchor="start" >7.25%</text>
<text x="264.3" y="90.4" font-size="9.5" font-weight="bold" text-anchor="start" >68.2%</text>
<circle cx="357.48" cy="51.22" r="0.42" fill="#aaa"/>
<circle cx="345.76" cy="55.94" r="0.42" fill="#aaa"/>
<circle cx="350.75" cy="56.94" r="0.42" fill="#aaa"/>
<circle cx="353.2" cy="62.18" r="0.42" fill="#aaa"/>
<circle cx="349.16" cy="49.23" r="0.42" fill="#aaa"/>
<circle cx="360.56" cy="62.9" r="0.42" fill="#aaa"/>
<circle cx="341.75" cy="57.16" r="0.42" fill="#aaa"/>
<circle cx="355.83" cy="69.81" r="0.42" fill="#aaa"/>
<circle cx="341.39" cy="47.22" r="0.42" fill="#aaa"/>
<circle cx="350.08" cy="56.71" r="0.42" fill="#aaa"/>
<circle cx="358.78" cy="66.01" r="0.42" fill="#aaa"/>
<circle cx="346.96" cy="56.63" r="0.42" fill="#aaa"/>
<circle cx="352.24" cy="67.34" r="0.42" fill="#aaa"/>
<circle cx="344.24" cy="56.01" r="0.42" fill="#aaa"/>
<circle cx="341.86" cy="61.75" r="0.42" fill="#aaa"/>
<circle cx="340.56" cy="68.51" r="0.42" fill="#aaa"/>
<circle cx="351" cy="60.2" r="0.42" fill="#aaa"/>
<circle cx="341.79" cy="52.34" r="0.42" fill="#aaa"/>
<circle cx="349.84" cy="66.72" r="0.42" fill="#aaa"/>
<circle cx="351.32" cy="53.55" r="0.42" fill="#aaa"/>
<circle cx="360.62" cy="62.21" r="0.42" fill="#aaa"/>
<circle cx="351.1" cy="51.65" r="0.42" fill="#aaa"/>
<circle cx="346.27" cy="67.7" r="0.42" fill="#aaa"/>
<circle cx="342.79" cy="59.23" r="0.42" fill="#aaa"/>
<circle cx="353.02" cy="55.16" r="0.42" fill="#aaa"/>
<circle cx="356.14" cy="67.93" r="0.42" fill="#aaa"/>
<circle cx="358.01" cy="63.97" r="0.42" fill="#aaa"/>
<circle cx="344.28" cy="48.38" r="0.42" fill="#aaa"/>
<circle cx="349.09" cy="54.18" r="0.42" fill="#aaa"/>
<circle cx="344.07" cy="67.04" r="0.42" fill="#aaa"/>
<circle cx="344.54" cy="65.92" r="0.42" fill="#aaa"/>
<circle cx="359.69" cy="49.75" r="0.42" fill="#aaa"/>
<circle cx="359.19" cy="56.13" r="0.42" fill="#aaa"/>
<circle cx="344.45" cy="51.29" r="0.42" fill="#aaa"/>
<circle cx="340.79" cy="58.47" r="0.42" fill="#aaa"/>
<circle cx="348.07" cy="66.58" r="0.42" fill="#aaa"/>
<circle cx="357.49" cy="48.31" r="0.42" fill="#aaa"/>
<circle cx="348.43" cy="55.95" r="0.42" fill="#aaa"/>
<circle cx="343.73" cy="52.77" r="0.42" fill="#aaa"/>
<circle cx="345.53" cy="62.96" r="0.42" fill="#aaa"/>
<circle cx="347.14" cy="49.56" r="0.42" fill="#aaa"/>
<circle cx="344.63" cy="57.17" r="0.42" fill="#aaa"/>
<circle cx="351.86" cy="52.65" r="0.42" fill="#aaa"/>
<circle cx="354.69" cy="51.95" r="0.42" fill="#aaa"/>
<circle cx="354.09" cy="61.02" r="0.42" fill="#aaa"/>
<circle cx="343.69" cy="64.27" r="0.42" fill="#aaa"/>
<circle cx="348.28" cy="59.41" r="0.42" fill="#aaa"/>
<circle cx="352.55" cy="61.45" r="0.42" fill="#aaa"/>
<circle cx="349.29" cy="48.29" r="0.42" fill="#aaa"/>
<circle cx="356.52" cy="66.77" r="0.42" fill="#aaa"/>
<circle cx="350.29" cy="60.32" r="0.42" fill="#aaa"/>
<circle cx="345.64" cy="67.67" r="0.42" fill="#aaa"/>
<circle cx="354.4" cy="52.1" r="0.42" fill="#aaa"/>
<circle cx="357.17" cy="69.68" r="0.42" fill="#aaa"/>
<circle cx="347.27" cy="69.9" r="0.42" fill="#aaa"/>
<circle cx="350.15" cy="51.11" r="0.42" fill="#aaa"/>
<circle cx="355.05" cy="54.79" r="0.42" fill="#aaa"/>
<circle cx="355.38" cy="60.42" r="0.42" fill="#aaa"/>
<circle cx="342.26" cy="59.15" r="0.42" fill="#aaa"/>
<circle cx="357.87" cy="57.99" r="0.42" fill="#aaa"/>
<circle cx="351.33" cy="66.85" r="0.42" fill="#aaa"/>
<circle cx="349.38" cy="58.33" r="0.42" fill="#aaa"/>
<circle cx="352.24" cy="65.95" r="0.42" fill="#aaa"/>
<circle cx="344.27" cy="49.15" r="0.42" fill="#aaa"/>
<circle cx="355.99" cy="59.71" r="0.42" fill="#aaa"/>
<circle cx="346.36" cy="67.52" r="0.42" fill="#aaa"/>
<circle cx="358.58" cy="59.45" r="0.42" fill="#aaa"/>
<circle cx="360.76" cy="66.23" r="0.42" fill="#aaa"/>
<circle cx="355.71" cy="53.7" r="0.42" fill="#aaa"/>
<circle cx="340.23" cy="62.61" r="0.42" fill="#aaa"/>
<circle cx="355.44" cy="55.07" r="0.42" fill="#aaa"/>
<circle cx="350.05" cy="60.04" r="0.42" fill="#aaa"/>
<circle cx="345.25" cy="63.05" r="0.42" fill="#aaa"/>
<circle cx="351.81" cy="55.87" r="0.42" fill="#aaa"/>
<circle cx="342.3" cy="59.74" r="0.42" fill="#aaa"/>
<circle cx="346.71" cy="63.67" r="0.42" fill="#aaa"/>
<circle cx="343.62" cy="56.07" r="0.42" fill="#aaa"/>
<circle cx="344.12" cy="56.39" r="0.42" fill="#aaa"/>
<circle cx="352.1" cy="49.46" r="0.42" fill="#aaa"/>
<circle cx="341.15" cy="58.09" r="0.42" fill="#aaa"/>
<circle cx="344.23" cy="58.62" r="0.42" fill="#aaa"/>
<circle cx="343.51" cy="49.32" r="0.42" fill="#aaa"/>
<circle cx="351.29" cy="68.23" r="0.42" fill="#aaa"/>
<circle cx="358.24" cy="58.86" r="0.42" fill="#aaa"/>
<circle cx="348.34" cy="48.52" r="0.42" fill="#aaa"/>
<circle cx="345.8" cy="54.23" r="0.42" fill="#aaa"/>
<circle cx="359.77" cy="49.7" r="0.42" fill="#aaa"/>
<circle cx="359.91" cy="57.96" r="0.42" fill="#aaa"/>
<circle cx="349.11" cy="53.03" r="0.42" fill="#aaa"/>
<circle cx="360.21" cy="51.28" r="0.42" fill="#aaa"/>
<circle cx="352" cy="58.75" r="0.42" fill="#aaa"/>
<circle cx="344.19" cy="52.13" r="0.42" fill="#aaa"/>
<circle cx="360.69" cy="65.19" r="0.42" fill="#aaa"/>
<circle cx="355.4" cy="67.77" r="0.42" fill="#aaa"/>
<circle cx="342.07" cy="63.18" r="0.42" fill="#aaa"/>
<circle cx="355.76" cy="52.18" r="0.42" fill="#aaa"/>
<circle cx="349.6" cy="69.41" r="0.42" fill="#aaa"/>
<circle cx="346.86" cy="64.53" r="0.42" fill="#aaa"/>
<circle cx="343.47" cy="62.35" r="0.42" fill="#aaa"/>
<circle cx="345.66" cy="58.7" r="0.42" fill="#aaa"/>
<circle cx="347.82" cy="67.02" r="0.42" fill="#aaa"/>
<circle cx="355.64" cy="58.6" r="0.42" fill="#aaa"/>
<circle cx="354.43" cy="56.84" r="0.42" fill="#aaa"/>
<circle cx="356.89" cy="52.92" r="0.42" fill="#aaa"/>
<circle cx="351.43" cy="60.47" r="0.42" fill="#aaa"/>
<circle cx="348.15" cy="48.07" r="0.42" fill="#aaa"/>
<circle cx="343.57" cy="61.73" r="0.42" fill="#aaa"/>
<circle cx="344.44" cy="64.44" r="0.42" fill="#aaa"/>
<circle cx="350.6" cy="68.92" r="0.42" fill="#aaa"/>
<circle cx="357.8" cy="63.73" r="0.42" fill="#aaa"/>
<circle cx="330.94" cy="72.87" r="0.35" fill="#bbb"/>
<circle cx="335.36" cy="86.91" r="0.35" fill="#bbb"/>
<circle cx="344.11" cy="76.05" r="0.35" fill="#bbb"/>
<circle cx="325.8" cy="91.61" r="0.35" fill="#bbb"/>
<circle cx="339.75" cy="81.69" r="0.35" fill="#bbb"/>
<circle cx="339.72" cy="74.99" r="0.35" fill="#bbb"/>
<circle cx="335.06" cy="85.37" r="0.35" fill="#bbb"/>
<circle cx="336.49" cy="75.22" r="0.35" fill="#bbb"/>
<circle cx="325.28" cy="84.5" r="0.35" fill="#bbb"/>
<circle cx="343.22" cy="74.76" r="0.35" fill="#bbb"/>
<circle cx="322.17" cy="73.66" r="0.35" fill="#bbb"/>
<circle cx="340.85" cy="79.82" r="0.35" fill="#bbb"/>
<circle cx="332.94" cy="91.88" r="0.35" fill="#bbb"/>
<circle cx="336.67" cy="77.27" r="0.35" fill="#bbb"/>
<circle cx="338.82" cy="72.04" r="0.35" fill="#bbb"/>
<circle cx="328.76" cy="85.97" r="0.35" fill="#bbb"/>
<circle cx="326.1" cy="72.65" r="0.35" fill="#bbb"/>
<circle cx="334.44" cy="78.56" r="0.35" fill="#bbb"/>
<circle cx="345.31" cy="74.03" r="0.35" fill="#bbb"/>
<circle cx="341.25" cy="79.77" r="0.35" fill="#bbb"/>
<circle cx="341.33" cy="80.9" r="0.35" fill="#bbb"/>
<circle cx="338.02" cy="78.53" r="0.35" fill="#bbb"/>
<circle cx="327.39" cy="81.05" r="0.35" fill="#bbb"/>
<circle cx="341.2" cy="78.91" r="0.35" fill="#bbb"/>
<circle cx="327.52" cy="80.32" r="0.35" fill="#bbb"/>
<circle cx="324.3" cy="78.31" r="0.35" fill="#bbb"/>
<circle cx="335.75" cy="82.91" r="0.35" fill="#bbb"/>
<circle cx="336.34" cy="77.8" r="0.35" fill="#bbb"/>
<circle cx="322.6" cy="72.53" r="0.35" fill="#bbb"/>
<circle cx="330.14" cy="75.93" r="0.35" fill="#bbb"/>
<circle cx="355.69" cy="79.9" r="0.35" fill="#bbb"/>
<circle cx="357.62" cy="88.64" r="0.35" fill="#bbb"/>
<circle cx="356.62" cy="92.12" r="0.35" fill="#bbb"/>
<circle cx="355.22" cy="84.09" r="0.35" fill="#bbb"/>
<circle cx="353.08" cy="74.64" r="0.35" fill="#bbb"/>
<circle cx="357.94" cy="86" r="0.35" fill="#bbb"/>
<circle cx="351" cy="97.09" r="0.35" fill="#bbb"/>
<circle cx="355.82" cy="89.21" r="0.35" fill="#bbb"/>
<circle cx="354.39" cy="76.28" r="0.35" fill="#bbb"/>
<circle cx="360" cy="77.37" r="0.35" fill="#bbb"/>
<circle cx="353.66" cy="98.98" r="0.35" fill="#bbb"/>
<circle cx="351.22" cy="85.99" r="0.35" fill="#bbb"/>
<circle cx="354.8" cy="79.44" r="0.35" fill="#bbb"/>
<circle cx="359.25" cy="83.77" r="0.35" fill="#bbb"/>
<circle cx="350.12" cy="85.31" r="0.35" fill="#bbb"/>
<circle cx="350.05" cy="91.42" r="0.35" fill="#bbb"/>
<circle cx="358.69" cy="96.55" r="0.35" fill="#bbb"/>
<circle cx="350.48" cy="90.56" r="0.35" fill="#bbb"/>
<circle cx="353.05" cy="85.29" r="0.35" fill="#bbb"/>
<circle cx="353" cy="80.93" r="0.35" fill="#bbb"/>
<path d="M321.3,47 C322.58,43.58 326.38,45.42 329,45.5 C331.62,45.58 334.83,46.42 337,47.5 C339.17,48.58 340.5,49.92 342,52 C343.5,54.08 345.75,57.58 346,60 C346.25,62.42 345.33,65.17 343.5,66.5 C341.67,67.83 337.75,68 335,68 C332.25,68 329.28,66.83 327,66.5 C324.72,66.17 322.25,69.25 321.3,66 C320.35,62.75 320.02,50.42 321.3,47Z" fill="#e0e0e0" stroke="#000" stroke-width="0.45"/>
<path d="M322.94,48.8 C323.97,46.07 327.01,47.53 329.1,47.6 C331.19,47.67 333.77,48.33 335.5,49.2 C337.23,50.07 338.3,51.13 339.5,52.8 C340.7,54.47 342.5,57.27 342.7,59.2 C342.9,61.13 342.17,63.33 340.7,64.4 C339.23,65.47 336.1,65.6 333.9,65.6 C331.7,65.6 329.33,64.67 327.5,64.4 C325.67,64.13 323.7,66.6 322.94,64 C322.18,61.4 321.91,51.53 322.94,48.8Z" fill="#a8a8a8" stroke="#000" stroke-width="0.45"/>
<path d="M324.25,50.24 C325.07,48.05 327.51,49.23 329.18,49.28 C330.85,49.33 332.91,49.87 334.3,50.56 C335.69,51.25 336.54,52.11 337.5,53.44 C338.46,54.77 339.9,57.01 340.06,58.56 C340.22,60.11 339.63,61.87 338.46,62.72 C337.29,63.57 334.78,63.68 333.02,63.68 C331.26,63.68 329.36,62.93 327.9,62.72 C326.44,62.51 324.86,64.48 324.25,62.4 C323.64,60.32 323.43,52.43 324.25,50.24Z" fill="#707070" stroke="#000" stroke-width="0.45"/>
<path d="M325.3,51.39 C325.96,49.64 327.9,50.58 329.24,50.62 C330.58,50.67 332.23,51.09 333.34,51.65 C334.45,52.2 335.13,52.89 335.9,53.95 C336.67,55.02 337.82,56.81 337.95,58.05 C338.08,59.29 337.61,60.69 336.67,61.38 C335.73,62.06 333.72,62.14 332.32,62.14 C330.91,62.14 329.39,61.55 328.22,61.38 C327.05,61.21 325.79,62.78 325.3,61.12 C324.82,59.46 324.64,53.14 325.3,51.39Z" fill="#404040" stroke="#000" stroke-width="0.45"/>
<path d="M326.14,52.31 C326.67,50.91 328.22,51.67 329.3,51.7 C330.37,51.73 331.68,52.07 332.57,52.52 C333.46,52.96 334.01,53.51 334.62,54.36 C335.23,55.21 336.16,56.65 336.26,57.64 C336.36,58.63 335.99,59.75 335.23,60.3 C334.48,60.85 332.88,60.92 331.75,60.92 C330.63,60.92 329.41,60.44 328.48,60.3 C327.54,60.16 326.53,61.43 326.14,60.1 C325.75,58.76 325.62,53.71 326.14,52.31Z" fill="#222" stroke="#000" stroke-width="0.45"/>
<path d="M326.81,53.05 C327.23,51.93 328.48,52.53 329.34,52.56 C330.19,52.59 331.25,52.86 331.96,53.21 C332.67,53.57 333.1,54.01 333.6,54.69 C334.09,55.37 334.82,56.52 334.91,57.31 C334.99,58.1 334.69,59 334.09,59.44 C333.49,59.88 332.2,59.93 331.3,59.93 C330.4,59.93 329.43,59.55 328.68,59.44 C327.93,59.33 327.12,60.34 326.81,59.28 C326.5,58.21 326.39,54.17 326.81,53.05Z" fill="#111" stroke="#000" stroke-width="0.45"/>
<path d="M327.35,53.64 C327.69,52.75 328.68,53.23 329.37,53.25 C330.05,53.27 330.9,53.49 331.47,53.77 C332.03,54.06 332.38,54.41 332.78,54.95 C333.17,55.5 333.76,56.42 333.83,57.05 C333.89,57.68 333.65,58.4 333.17,58.75 C332.69,59.1 331.66,59.15 330.94,59.15 C330.22,59.15 329.44,58.84 328.84,58.75 C328.25,58.67 327.6,59.47 327.35,58.62 C327.1,57.77 327.01,54.54 327.35,53.64Z" fill="#000" stroke="#000" stroke-width="0.45"/>
<path d="M325,66 Q327,78 333,79 Q338,79 340,73 Q343,71 345,76" fill="none" stroke="#000" stroke-width="0.55"/>
<path d="M322.5,68 Q325,84 335,83 Q341,82 342,77" fill="none" stroke="#000" stroke-width="0.5"/>
<ellipse cx="353" cy="89.5" rx="4.5" ry="6" fill="#fff" stroke="#000" stroke-width="0.55" opacity="1"/>
<path d="M367.5,48 C369.17,47.83 371.58,49.33 372.5,51 C373.42,52.67 373.25,55.75 373,58 C372.75,60.25 372.08,63.33 371,64.5 C369.92,65.67 367.92,65.75 366.5,65 C365.08,64.25 363.17,62.17 362.5,60 C361.83,57.83 361.67,54 362.5,52 C363.33,50 365.83,48.17 367.5,48Z" fill="#fff" stroke="#000" stroke-width="0.5"/>
<path d="M367.5,50.04 C368.77,49.91 370.6,51.05 371.3,52.32 C372,53.59 371.87,55.93 371.68,57.64 C371.49,59.35 370.98,61.69 370.16,62.58 C369.34,63.47 367.82,63.53 366.74,62.96 C365.66,62.39 364.21,60.81 363.7,59.16 C363.19,57.51 363.07,54.6 363.7,53.08 C364.33,51.56 366.23,50.17 367.5,50.04Z" fill="#f0f0f0" stroke="#000" stroke-width="0.5"/>
<path d="M367.5,51.59 C368.46,51.49 369.86,52.36 370.39,53.32 C370.92,54.29 370.82,56.07 370.68,57.37 C370.53,58.67 370.15,60.45 369.52,61.12 C368.9,61.79 367.74,61.84 366.92,61.41 C366.1,60.98 365,59.77 364.61,58.52 C364.23,57.27 364.13,55.06 364.61,53.9 C365.09,52.75 366.54,51.69 367.5,51.59Z" fill="#ddd" stroke="#000" stroke-width="0.5"/>
<path d="M367.5,52.77 C368.23,52.7 369.29,53.35 369.69,54.09 C370.1,54.82 370.02,56.17 369.91,57.16 C369.8,58.15 369.51,59.5 369.04,60.01 C368.56,60.52 367.68,60.56 367.06,60.23 C366.44,59.9 365.6,58.99 365.31,58.04 C365.01,57.09 364.94,55.4 365.31,54.52 C365.67,53.65 366.77,52.84 367.5,52.77Z" fill="#bbb" stroke="#000" stroke-width="0.5"/>
<path d="M367.5,53.66 C368.06,53.61 368.86,54.11 369.17,54.67 C369.47,55.22 369.42,56.25 369.33,57 C369.25,57.75 369.03,58.78 368.67,59.17 C368.31,59.56 367.64,59.59 367.17,59.34 C366.69,59.09 366.05,58.39 365.83,57.67 C365.61,56.94 365.55,55.67 365.83,55 C366.11,54.33 366.94,53.72 367.5,53.66Z" fill="#999" stroke="#000" stroke-width="0.5"/>
<path d="M363,73.5 C364.37,72.08 367.75,72.42 370,72.5 C372.25,72.58 375.17,72.42 376.5,74 C377.83,75.58 378,79.45 378,82 C378,84.55 377.83,87.97 376.5,89.3 C375.17,90.63 372.25,90.08 370,90 C367.75,89.92 364.37,90.3 363,88.8 C361.63,87.3 361.8,83.55 361.8,81 C361.8,78.45 361.63,74.92 363,73.5Z" fill="#999" stroke="#000" stroke-width="0.5"/>
<path d="M364.05,74.62 C365.21,73.42 368.09,73.7 370,73.78 C371.91,73.85 374.39,73.7 375.52,75.05 C376.66,76.4 376.8,79.68 376.8,81.85 C376.8,84.02 376.66,86.92 375.52,88.05 C374.39,89.19 371.91,88.72 370,88.65 C368.09,88.58 365.21,88.91 364.05,87.63 C362.89,86.35 363.03,83.17 363.03,81 C363.03,78.83 362.89,75.83 364.05,74.62Z" fill="#444" stroke="#000" stroke-width="0.5"/>
<path d="M364.94,75.58 C365.93,74.56 368.37,74.8 370,74.86 C371.63,74.92 373.73,74.8 374.7,75.94 C375.66,77.09 375.78,79.88 375.78,81.72 C375.78,83.56 375.66,86.03 374.7,87 C373.73,87.96 371.63,87.56 370,87.5 C368.37,87.44 365.93,87.72 364.94,86.64 C363.96,85.55 364.08,82.84 364.08,81 C364.08,79.16 363.96,76.6 364.94,75.58Z" fill="#1a1a1a" stroke="#000" stroke-width="0.5"/>
<path d="M365.7,76.39 C366.54,75.52 368.62,75.73 370,75.78 C371.38,75.83 373.17,75.73 373.99,76.7 C374.81,77.67 374.91,80.05 374.91,81.61 C374.91,83.18 374.81,85.28 373.99,86.1 C373.17,86.92 371.38,86.58 370,86.53 C368.62,86.48 366.54,86.71 365.7,85.79 C364.86,84.87 364.96,82.57 364.96,81 C364.96,79.43 364.86,77.26 365.7,76.39Z" fill="#000" stroke="#000" stroke-width="0.5"/>
<path d="M366.35,77.08 C367.06,76.35 368.83,76.52 370,76.56 C371.17,76.61 372.7,76.52 373.39,77.35 C374.09,78.17 374.18,80.19 374.18,81.52 C374.18,82.85 374.09,84.64 373.39,85.33 C372.7,86.03 371.17,85.74 370,85.7 C368.83,85.65 367.06,85.85 366.35,85.07 C365.63,84.29 365.72,82.33 365.72,81 C365.72,79.67 365.63,77.82 366.35,77.08Z" fill="#000" stroke="#000" stroke-width="0.5"/>
<rect x="320.8" y="31.6" width="69.1" height="69.7" fill="none" stroke="#000" stroke-width="1.1"/>
<line x1="320.8" y1="71.4" x2="389.9" y2="71.4" stroke="#000" stroke-width="1.0"/>
<line x1="347.5" y1="71.4" x2="347.5" y2="101.3" stroke="#000" stroke-width="1.0"/>
<text x="298.8" y="40" font-size="7.9" font-weight="bold" text-anchor="start" >CD3</text>
<text x="366.3" y="115.2" font-size="8.2" font-weight="bold" letter-spacing="0.6">B220</text>
<text x="0" y="0" font-size="4.8" transform="translate(319.5 95.72) rotate(-90)" text-anchor="middle">0.1</text>
<line x1="318.2" y1="101.12" x2="320" y2="101.12" stroke="#000" stroke-width="0.45"/>
<text x="0" y="0" font-size="4.8" transform="translate(319.5 82.48) rotate(-90)" text-anchor="middle">1</text>
<line x1="318.2" y1="85.08" x2="320" y2="85.08" stroke="#000" stroke-width="0.45"/>
<text x="0" y="0" font-size="4.8" transform="translate(319.5 61.92) rotate(-90)" text-anchor="middle">10</text>
<line x1="318.2" y1="65.92" x2="320" y2="65.92" stroke="#000" stroke-width="0.45"/>
<text x="0" y="0" font-size="4.8" transform="translate(319.5 43.45) rotate(-90)" text-anchor="middle">100</text>
<line x1="318.2" y1="48.85" x2="320" y2="48.85" stroke="#000" stroke-width="0.45"/>
<text x="326.24" y="106" font-size="4.9" font-weight="normal" text-anchor="middle" >0.1</text>
<line x1="320.94" y1="102.3" x2="320.94" y2="105.5" stroke="#000" stroke-width="0.45"/>
<text x="340.06" y="106" font-size="4.9" font-weight="normal" text-anchor="middle" >1</text>
<line x1="337.36" y1="102.3" x2="337.36" y2="105.5" stroke="#000" stroke-width="0.45"/>
<text x="358.02" y="106" font-size="4.9" font-weight="normal" text-anchor="middle" >10</text>
<line x1="354.02" y1="102.3" x2="354.02" y2="105.5" stroke="#000" stroke-width="0.45"/>
<text x="375.99" y="106" font-size="4.9" font-weight="normal" text-anchor="middle" >100</text>
<line x1="370.69" y1="102.3" x2="370.69" y2="105.5" stroke="#000" stroke-width="0.45"/>
<text x="388.77" y="106" font-size="4.9" font-weight="normal" text-anchor="middle" >1</text>
<line x1="386.07" y1="102.3" x2="386.07" y2="105.5" stroke="#000" stroke-width="0.45"/>
<text x="337.5" y="42.2" font-size="9.5" font-weight="bold" text-anchor="start" >37.1%</text>
<text x="321.3" y="99" font-size="9.5" font-weight="bold" text-anchor="start" >3.4%</text>
<text x="359.6" y="99.4" font-size="9.5" font-weight="bold" text-anchor="start" >59.4%</text>
<circle cx="447.38" cy="66.39" r="0.42" fill="#aaa"/>
<circle cx="445.92" cy="74.18" r="0.42" fill="#aaa"/>
<circle cx="444.45" cy="74.17" r="0.42" fill="#aaa"/>
<circle cx="449.32" cy="53.92" r="0.42" fill="#aaa"/>
<circle cx="467.58" cy="64.21" r="0.42" fill="#aaa"/>
<circle cx="468.37" cy="63.69" r="0.42" fill="#aaa"/>
<circle cx="463.81" cy="53.9" r="0.42" fill="#aaa"/>
<circle cx="465.24" cy="63.79" r="0.42" fill="#aaa"/>
<circle cx="474.75" cy="52.14" r="0.42" fill="#aaa"/>
<circle cx="445.25" cy="67.55" r="0.42" fill="#aaa"/>
<circle cx="473.56" cy="61.7" r="0.42" fill="#aaa"/>
<circle cx="466.46" cy="64.89" r="0.42" fill="#aaa"/>
<circle cx="455.9" cy="62.7" r="0.42" fill="#aaa"/>
<circle cx="462.85" cy="52.66" r="0.42" fill="#aaa"/>
<circle cx="453.09" cy="68.98" r="0.42" fill="#aaa"/>
<circle cx="451.52" cy="62.88" r="0.42" fill="#aaa"/>
<circle cx="451.47" cy="60.23" r="0.42" fill="#aaa"/>
<circle cx="464.47" cy="69.11" r="0.42" fill="#aaa"/>
<circle cx="474.58" cy="62.97" r="0.42" fill="#aaa"/>
<circle cx="449.69" cy="59.75" r="0.42" fill="#aaa"/>
<circle cx="444.93" cy="57.51" r="0.42" fill="#aaa"/>
<circle cx="462.29" cy="66.06" r="0.42" fill="#aaa"/>
<circle cx="450.97" cy="56.18" r="0.42" fill="#aaa"/>
<circle cx="446.24" cy="56.11" r="0.42" fill="#aaa"/>
<circle cx="459.55" cy="57.87" r="0.42" fill="#aaa"/>
<circle cx="472.16" cy="64.99" r="0.42" fill="#aaa"/>
<circle cx="454.23" cy="61.91" r="0.42" fill="#aaa"/>
<circle cx="444.32" cy="68.86" r="0.42" fill="#aaa"/>
<circle cx="467.79" cy="60.36" r="0.42" fill="#aaa"/>
<circle cx="466.94" cy="58.27" r="0.42" fill="#aaa"/>
<circle cx="450.24" cy="57.25" r="0.42" fill="#aaa"/>
<circle cx="449.49" cy="65.93" r="0.42" fill="#aaa"/>
<circle cx="464.19" cy="68.74" r="0.42" fill="#aaa"/>
<circle cx="446.42" cy="69.62" r="0.42" fill="#aaa"/>
<circle cx="458.78" cy="60.71" r="0.42" fill="#aaa"/>
<circle cx="459.6" cy="61.95" r="0.42" fill="#aaa"/>
<circle cx="449.6" cy="61.09" r="0.42" fill="#aaa"/>
<circle cx="464.32" cy="68.45" r="0.42" fill="#aaa"/>
<circle cx="473.2" cy="56.47" r="0.42" fill="#aaa"/>
<circle cx="472.4" cy="70.41" r="0.42" fill="#aaa"/>
<circle cx="466.53" cy="74.53" r="0.42" fill="#aaa"/>
<circle cx="447.55" cy="69.86" r="0.42" fill="#aaa"/>
<circle cx="472.68" cy="54.81" r="0.42" fill="#aaa"/>
<circle cx="462.62" cy="73.78" r="0.42" fill="#aaa"/>
<circle cx="452.67" cy="71.67" r="0.42" fill="#aaa"/>
<circle cx="472.91" cy="62.01" r="0.42" fill="#aaa"/>
<circle cx="447.79" cy="56.96" r="0.42" fill="#aaa"/>
<circle cx="470.38" cy="61.71" r="0.42" fill="#aaa"/>
<circle cx="453.42" cy="62.19" r="0.42" fill="#aaa"/>
<circle cx="473.63" cy="57.84" r="0.42" fill="#aaa"/>
<circle cx="443.6" cy="73.83" r="0.42" fill="#aaa"/>
<circle cx="453.46" cy="60.87" r="0.42" fill="#aaa"/>
<circle cx="475.2" cy="58.48" r="0.42" fill="#aaa"/>
<circle cx="445.83" cy="72.42" r="0.42" fill="#aaa"/>
<circle cx="451.05" cy="57.1" r="0.42" fill="#aaa"/>
<circle cx="473.94" cy="57.28" r="0.42" fill="#aaa"/>
<circle cx="472.74" cy="59.66" r="0.42" fill="#aaa"/>
<circle cx="453.01" cy="56.96" r="0.42" fill="#aaa"/>
<circle cx="460.9" cy="64.88" r="0.42" fill="#aaa"/>
<circle cx="456.15" cy="63.67" r="0.42" fill="#aaa"/>
<circle cx="452.84" cy="71.27" r="0.42" fill="#aaa"/>
<circle cx="473.82" cy="69.32" r="0.42" fill="#aaa"/>
<circle cx="470.05" cy="53.63" r="0.42" fill="#aaa"/>
<circle cx="451.26" cy="56.69" r="0.42" fill="#aaa"/>
<circle cx="448.11" cy="74.27" r="0.42" fill="#aaa"/>
<circle cx="472.87" cy="73.03" r="0.42" fill="#aaa"/>
<circle cx="461.41" cy="54.68" r="0.42" fill="#aaa"/>
<circle cx="457.09" cy="53.29" r="0.42" fill="#aaa"/>
<circle cx="472.85" cy="58.11" r="0.42" fill="#aaa"/>
<circle cx="452.51" cy="73.75" r="0.42" fill="#aaa"/>
<circle cx="449.62" cy="73.22" r="0.42" fill="#aaa"/>
<circle cx="453.27" cy="67.29" r="0.42" fill="#aaa"/>
<circle cx="446.52" cy="72.66" r="0.42" fill="#aaa"/>
<circle cx="456.15" cy="59.94" r="0.42" fill="#aaa"/>
<circle cx="464.59" cy="65.65" r="0.42" fill="#aaa"/>
<circle cx="451.28" cy="54.86" r="0.42" fill="#aaa"/>
<circle cx="461.99" cy="52.57" r="0.42" fill="#aaa"/>
<circle cx="471.76" cy="59.91" r="0.42" fill="#aaa"/>
<circle cx="448.6" cy="59.54" r="0.42" fill="#aaa"/>
<circle cx="446.76" cy="59.28" r="0.42" fill="#aaa"/>
<circle cx="460.93" cy="61.36" r="0.42" fill="#aaa"/>
<circle cx="454.03" cy="58.69" r="0.42" fill="#aaa"/>
<circle cx="459.05" cy="69.91" r="0.42" fill="#aaa"/>
<circle cx="457.44" cy="69.66" r="0.42" fill="#aaa"/>
<circle cx="458.93" cy="54.77" r="0.42" fill="#aaa"/>
<circle cx="448.62" cy="71.5" r="0.42" fill="#aaa"/>
<circle cx="458.82" cy="60.8" r="0.42" fill="#aaa"/>
<circle cx="460.02" cy="71.46" r="0.42" fill="#aaa"/>
<circle cx="455.39" cy="60.32" r="0.42" fill="#aaa"/>
<circle cx="455.08" cy="52.25" r="0.42" fill="#aaa"/>
<circle cx="460.98" cy="63.02" r="0.42" fill="#aaa"/>
<circle cx="459.36" cy="62.39" r="0.42" fill="#aaa"/>
<circle cx="458.59" cy="68.46" r="0.42" fill="#aaa"/>
<circle cx="449.14" cy="74.57" r="0.42" fill="#aaa"/>
<circle cx="446.78" cy="71.93" r="0.42" fill="#aaa"/>
<circle cx="448.78" cy="70.29" r="0.42" fill="#aaa"/>
<circle cx="451.6" cy="53.8" r="0.42" fill="#aaa"/>
<circle cx="460.84" cy="71.3" r="0.42" fill="#aaa"/>
<circle cx="470.9" cy="72.17" r="0.42" fill="#aaa"/>
<circle cx="475.33" cy="53.22" r="0.42" fill="#aaa"/>
<circle cx="455.51" cy="54.46" r="0.42" fill="#aaa"/>
<circle cx="467.92" cy="62.38" r="0.42" fill="#aaa"/>
<circle cx="467.55" cy="70.3" r="0.42" fill="#aaa"/>
<circle cx="475.97" cy="67.57" r="0.42" fill="#aaa"/>
<circle cx="471.88" cy="64.62" r="0.42" fill="#aaa"/>
<circle cx="445.66" cy="72.5" r="0.42" fill="#aaa"/>
<circle cx="446.01" cy="53.97" r="0.42" fill="#aaa"/>
<circle cx="470.4" cy="58.45" r="0.42" fill="#aaa"/>
<circle cx="464.86" cy="52.66" r="0.42" fill="#aaa"/>
<circle cx="449.96" cy="68.46" r="0.42" fill="#aaa"/>
<path d="M416.8,51.5 C418,47.2 421.3,49.53 424,49.2 C426.7,48.87 430.33,48.87 433,49.5 C435.67,50.13 438.17,51.25 440,53 C441.83,54.75 443,57.5 444,60 C445,62.5 446.5,65.83 446,68 C445.5,70.17 443.5,71.78 441,73 C438.5,74.22 435.03,74.97 431,75.3 C426.97,75.63 419.17,78.97 416.8,75 C414.43,71.03 415.6,55.8 416.8,51.5Z" fill="#e8e8e8" stroke="#000" stroke-width="0.45"/>
<path d="M418.64,53.21 C419.62,49.68 422.33,51.6 424.54,51.32 C426.75,51.05 429.73,51.05 431.92,51.57 C434.11,52.09 436.16,53 437.66,54.44 C439.16,55.88 440.12,58.13 440.94,60.18 C441.76,62.23 442.99,64.96 442.58,66.74 C442.17,68.52 440.53,69.84 438.48,70.84 C436.43,71.84 433.59,72.45 430.28,72.73 C426.97,73 420.58,75.73 418.64,72.48 C416.7,69.23 417.65,56.74 418.64,53.21Z" fill="#b0b0b0" stroke="#000" stroke-width="0.45"/>
<path d="M420.14,54.61 C420.95,51.72 423.17,53.29 424.98,53.07 C426.8,52.84 429.24,52.84 431.03,53.27 C432.83,53.69 434.51,54.44 435.74,55.62 C436.97,56.8 437.76,58.65 438.43,60.33 C439.1,62.01 440.11,64.25 439.78,65.71 C439.44,67.16 438.09,68.25 436.41,69.07 C434.73,69.89 432.4,70.39 429.69,70.62 C426.98,70.84 421.73,73.08 420.14,70.41 C418.55,67.75 419.33,57.5 420.14,54.61Z" fill="#707070" stroke="#000" stroke-width="0.45"/>
<path d="M421.38,55.76 C422.04,53.39 423.86,54.68 425.35,54.49 C426.83,54.31 428.84,54.31 430.31,54.66 C431.78,55.01 433.16,55.62 434.17,56.59 C435.18,57.55 435.82,59.07 436.37,60.45 C436.92,61.83 437.75,63.66 437.48,64.86 C437.2,66.05 436.1,66.95 434.72,67.62 C433.34,68.29 431.43,68.7 429.21,68.88 C426.98,69.07 422.68,70.91 421.38,68.72 C420.07,66.53 420.71,58.13 421.38,55.76Z" fill="#404040" stroke="#000" stroke-width="0.45"/>
<path d="M422.39,56.7 C422.93,54.76 424.42,55.82 425.64,55.66 C426.86,55.51 428.51,55.51 429.71,55.8 C430.92,56.09 432.05,56.59 432.88,57.38 C433.71,58.17 434.23,59.42 434.69,60.55 C435.14,61.68 435.82,63.19 435.59,64.16 C435.36,65.14 434.46,65.88 433.33,66.43 C432.2,66.98 430.63,67.31 428.81,67.47 C426.98,67.62 423.46,69.12 422.39,67.33 C421.32,65.54 421.85,58.65 422.39,56.7Z" fill="#252525" stroke="#000" stroke-width="0.45"/>
<path d="M423.22,57.48 C423.66,55.88 424.89,56.75 425.89,56.63 C426.89,56.5 428.24,56.5 429.22,56.74 C430.21,56.97 431.14,57.39 431.82,58.03 C432.5,58.68 432.93,59.7 433.3,60.63 C433.67,61.56 434.23,62.79 434.04,63.6 C433.86,64.4 433.12,65 432.19,65.45 C431.26,65.9 429.98,66.18 428.48,66.3 C426.99,66.43 424.1,67.66 423.22,66.19 C422.34,64.72 422.77,59.07 423.22,57.48Z" fill="#151515" stroke="#000" stroke-width="0.45"/>
<path d="M423.9,58.11 C424.26,56.8 425.27,57.51 426.09,57.41 C426.91,57.31 428.01,57.31 428.82,57.5 C429.63,57.7 430.39,58.04 430.95,58.57 C431.51,59.1 431.86,59.94 432.17,60.7 C432.47,61.46 432.93,62.47 432.78,63.13 C432.62,63.79 432.02,64.28 431.26,64.65 C430.5,65.02 429.44,65.25 428.22,65.35 C426.99,65.45 424.62,66.46 423.9,65.26 C423.18,64.05 423.53,59.42 423.9,58.11Z" fill="#111" stroke="#000" stroke-width="0.45"/>
<path d="M433.8,82.5 C435.63,79.92 441.47,81.33 445,81.5 C448.53,81.67 452.58,82.17 455,83.5 C457.42,84.83 459.33,87.42 459.5,89.5 C459.67,91.58 458.42,94.62 456,96 C453.58,97.38 448.67,97.63 445,97.8 C441.33,97.97 435.87,99.55 434,97 C432.13,94.45 431.97,85.08 433.8,82.5Z" fill="#fff" stroke="#000" stroke-width="0.45"/>
<path d="M435.64,83.96 C437.11,81.89 441.77,83.03 444.6,83.16 C447.43,83.29 450.67,83.69 452.6,84.76 C454.53,85.83 456.07,87.89 456.2,89.56 C456.33,91.23 455.33,93.65 453.4,94.76 C451.47,95.87 447.53,96.07 444.6,96.2 C441.67,96.33 437.29,97.6 435.8,95.56 C434.31,93.52 434.17,86.03 435.64,83.96Z" fill="#f4f4f4" stroke="#000" stroke-width="0.45"/>
<path d="M437.11,85.13 C438.29,83.47 442.02,84.38 444.28,84.49 C446.54,84.59 449.13,84.91 450.68,85.77 C452.23,86.62 453.45,88.27 453.56,89.61 C453.67,90.94 452.87,92.88 451.32,93.77 C449.77,94.65 446.63,94.81 444.28,94.92 C441.93,95.03 438.43,96.04 437.24,94.41 C436.05,92.78 435.94,86.78 437.11,85.13Z" fill="#e4e4e4" stroke="#000" stroke-width="0.45"/>
<path d="M438.29,86.06 C439.23,84.74 442.21,85.47 444.02,85.55 C445.83,85.64 447.91,85.89 449.14,86.57 C450.38,87.26 451.36,88.58 451.45,89.65 C451.53,90.71 450.89,92.27 449.66,92.97 C448.42,93.68 445.9,93.81 444.02,93.9 C442.15,93.98 439.35,94.79 438.39,93.49 C437.44,92.18 437.35,87.39 438.29,86.06Z" fill="#c8c8c8" stroke="#000" stroke-width="0.45"/>
<path d="M439.23,86.81 C439.98,85.75 442.37,86.33 443.82,86.4 C445.27,86.47 446.93,86.67 447.92,87.22 C448.91,87.77 449.69,88.82 449.76,89.68 C449.83,90.53 449.31,91.77 448.32,92.34 C447.33,92.91 445.32,93.01 443.82,93.08 C442.32,93.15 440.08,93.79 439.31,92.75 C438.55,91.7 438.48,87.87 439.23,86.81Z" fill="#909090" stroke="#000" stroke-width="0.45"/>
<path d="M439.99,87.41 C440.59,86.56 442.5,87.03 443.66,87.08 C444.81,87.13 446.14,87.3 446.93,87.74 C447.72,88.17 448.35,89.02 448.41,89.7 C448.46,90.38 448.05,91.38 447.26,91.83 C446.47,92.28 444.86,92.37 443.66,92.42 C442.45,92.48 440.66,92.99 440.05,92.16 C439.44,91.32 439.38,88.25 439.99,87.41Z" fill="#505050" stroke="#000" stroke-width="0.45"/>
<path d="M440.59,87.89 C441.07,87.21 442.6,87.58 443.52,87.62 C444.45,87.67 445.51,87.8 446.15,88.15 C446.78,88.5 447.28,89.18 447.33,89.72 C447.37,90.27 447.04,91.06 446.41,91.43 C445.77,91.79 444.49,91.85 443.52,91.9 C442.56,91.94 441.13,92.36 440.64,91.69 C440.15,91.02 440.11,88.56 440.59,87.89Z" fill="#333" stroke="#000" stroke-width="0.45"/>
<ellipse cx="465" cy="90" rx="3.5" ry="4.6" fill="#fff" stroke="#000" stroke-width="0.55" opacity="1"/>
<ellipse cx="465" cy="90" rx="1.6" ry="2.3" fill="none" stroke="#000" stroke-width="0.5" opacity="1"/>
<path d="M418,79 Q426,87 421,98" fill="none" stroke="#000" stroke-width="0.5"/>
<path d="M423,77 Q432,90 427,99" fill="none" stroke="#000" stroke-width="0.5"/>
<circle cx="417.56" cy="88.72" r="0.35" fill="#bbb"/>
<circle cx="431.06" cy="82.5" r="0.35" fill="#bbb"/>
<circle cx="427.57" cy="93.62" r="0.35" fill="#bbb"/>
<circle cx="426.3" cy="94.09" r="0.35" fill="#bbb"/>
<circle cx="427.47" cy="78.3" r="0.35" fill="#bbb"/>
<circle cx="419.88" cy="89.26" r="0.35" fill="#bbb"/>
<circle cx="431.55" cy="82.56" r="0.35" fill="#bbb"/>
<circle cx="425.8" cy="80.69" r="0.35" fill="#bbb"/>
<circle cx="429.7" cy="87.35" r="0.35" fill="#bbb"/>
<circle cx="424.83" cy="92.06" r="0.35" fill="#bbb"/>
<circle cx="419.05" cy="93.3" r="0.35" fill="#bbb"/>
<circle cx="429" cy="96.05" r="0.35" fill="#bbb"/>
<circle cx="421.22" cy="82.92" r="0.35" fill="#bbb"/>
<circle cx="419.47" cy="96.89" r="0.35" fill="#bbb"/>
<circle cx="423.57" cy="86.19" r="0.35" fill="#bbb"/>
<circle cx="424.81" cy="92.67" r="0.35" fill="#bbb"/>
<circle cx="421.77" cy="85.06" r="0.35" fill="#bbb"/>
<circle cx="428.49" cy="94.31" r="0.35" fill="#bbb"/>
<circle cx="421.44" cy="79.55" r="0.35" fill="#bbb"/>
<circle cx="430.92" cy="93.32" r="0.35" fill="#bbb"/>
<rect x="416.2" y="31.1" width="68.7" height="69.6" fill="none" stroke="#000" stroke-width="1.1"/>
<line x1="416.2" y1="75.9" x2="484.9" y2="75.9" stroke="#000" stroke-width="1.0"/>
<line x1="433.4" y1="75.9" x2="433.4" y2="100.7" stroke="#000" stroke-width="1.0"/>
<text x="394.6" y="39.5" font-size="7.9" font-weight="bold" text-anchor="start" >CD3</text>
<text x="461.9" y="115.2" font-size="8.2" font-weight="bold" letter-spacing="0.6">B220</text>
<text x="0" y="0" font-size="4.8" transform="translate(414.9 95.13) rotate(-90)" text-anchor="middle">0.1</text>
<line x1="413.6" y1="100.53" x2="415.4" y2="100.53" stroke="#000" stroke-width="0.45"/>
<text x="0" y="0" font-size="4.8" transform="translate(414.9 81.91) rotate(-90)" text-anchor="middle">1</text>
<line x1="413.6" y1="84.51" x2="415.4" y2="84.51" stroke="#000" stroke-width="0.45"/>
<text x="0" y="0" font-size="4.8" transform="translate(414.9 61.38) rotate(-90)" text-anchor="middle">10</text>
<line x1="413.6" y1="65.38" x2="415.4" y2="65.38" stroke="#000" stroke-width="0.45"/>
<text x="0" y="0" font-size="4.8" transform="translate(414.9 42.93) rotate(-90)" text-anchor="middle">100</text>
<line x1="413.6" y1="48.33" x2="415.4" y2="48.33" stroke="#000" stroke-width="0.45"/>
<text x="421.61" y="105.4" font-size="4.9" font-weight="normal" text-anchor="middle" >0.1</text>
<line x1="416.31" y1="101.7" x2="416.31" y2="104.9" stroke="#000" stroke-width="0.45"/>
<text x="435.35" y="105.4" font-size="4.9" font-weight="normal" text-anchor="middle" >1</text>
<line x1="432.65" y1="101.7" x2="432.65" y2="104.9" stroke="#000" stroke-width="0.45"/>
<text x="453.21" y="105.4" font-size="4.9" font-weight="normal" text-anchor="middle" >10</text>
<line x1="449.21" y1="101.7" x2="449.21" y2="104.9" stroke="#000" stroke-width="0.45"/>
<text x="471.07" y="105.4" font-size="4.9" font-weight="normal" text-anchor="middle" >100</text>
<line x1="465.77" y1="101.7" x2="465.77" y2="104.9" stroke="#000" stroke-width="0.45"/>
<text x="483.78" y="105.4" font-size="4.9" font-weight="normal" text-anchor="middle" >1</text>
<line x1="481.08" y1="101.7" x2="481.08" y2="104.9" stroke="#000" stroke-width="0.45"/>
<text x="428.6" y="43.2" font-size="9.5" font-weight="bold" text-anchor="start" >75.0%</text>
<text x="416.4" y="86.8" font-size="9.5" font-weight="bold" text-anchor="start" >4.4%</text>
<text x="456.2" y="87.2" font-size="9.5" font-weight="bold" text-anchor="start" >20.5%</text>
<circle cx="270.8" cy="205.9" r="0.35" fill="#c0c0c0"/>
<circle cx="283.56" cy="206.47" r="0.35" fill="#c0c0c0"/>
<circle cx="257.58" cy="199.21" r="0.35" fill="#c0c0c0"/>
<circle cx="262.29" cy="210.22" r="0.35" fill="#c0c0c0"/>
<circle cx="262.76" cy="217.84" r="0.35" fill="#c0c0c0"/>
<circle cx="272.74" cy="207.08" r="0.35" fill="#c0c0c0"/>
<circle cx="273.11" cy="210.24" r="0.35" fill="#c0c0c0"/>
<circle cx="271.62" cy="207.89" r="0.35" fill="#c0c0c0"/>
<circle cx="268.31" cy="207.81" r="0.35" fill="#c0c0c0"/>
<circle cx="279.1" cy="201.22" r="0.35" fill="#c0c0c0"/>
<circle cx="277.49" cy="203.56" r="0.35" fill="#c0c0c0"/>
<circle cx="279.71" cy="198.6" r="0.35" fill="#c0c0c0"/>
<circle cx="266.97" cy="206.74" r="0.35" fill="#c0c0c0"/>
<circle cx="274.9" cy="201.45" r="0.35" fill="#c0c0c0"/>
<circle cx="259.19" cy="199.92" r="0.35" fill="#c0c0c0"/>
<circle cx="269.65" cy="209.68" r="0.35" fill="#c0c0c0"/>
<circle cx="250.02" cy="200.91" r="0.35" fill="#c0c0c0"/>
<circle cx="256.99" cy="218.06" r="0.35" fill="#c0c0c0"/>
<circle cx="265.93" cy="209.44" r="0.35" fill="#c0c0c0"/>
<circle cx="260.14" cy="211.51" r="0.35" fill="#c0c0c0"/>
<circle cx="278.45" cy="211.77" r="0.35" fill="#c0c0c0"/>
<circle cx="250.05" cy="206.67" r="0.35" fill="#c0c0c0"/>
<circle cx="267.11" cy="197.98" r="0.35" fill="#c0c0c0"/>
<circle cx="277.65" cy="204.01" r="0.35" fill="#c0c0c0"/>
<circle cx="260.27" cy="210.76" r="0.35" fill="#c0c0c0"/>
<circle cx="270.47" cy="207.92" r="0.35" fill="#c0c0c0"/>
<circle cx="280.08" cy="208.42" r="0.35" fill="#c0c0c0"/>
<circle cx="262.01" cy="198.42" r="0.35" fill="#c0c0c0"/>
<circle cx="269.35" cy="205" r="0.35" fill="#c0c0c0"/>
<circle cx="268.78" cy="204.64" r="0.35" fill="#c0c0c0"/>
<circle cx="250.24" cy="197.83" r="0.35" fill="#c0c0c0"/>
<circle cx="255.53" cy="199.07" r="0.35" fill="#c0c0c0"/>
<circle cx="279.8" cy="209.78" r="0.35" fill="#c0c0c0"/>
<circle cx="258.35" cy="212.63" r="0.35" fill="#c0c0c0"/>
<circle cx="272.21" cy="198.36" r="0.35" fill="#c0c0c0"/>
<path d="M227.5,197.5 C228.92,194.42 233.08,195.67 236,195.5 C238.92,195.33 242.5,195.75 245,196.5 C247.5,197.25 249.63,198.17 251,200 C252.37,201.83 253.2,205.08 253.2,207.5 C253.2,209.92 252.2,212.67 251,214.5 C249.8,216.33 247.75,217.05 246,218.5 C244.25,219.95 242.17,223.03 240.5,223.2 C238.83,223.37 237.83,220.45 236,219.5 C234.17,218.55 230.92,218.42 229.5,217.5 C228.08,216.58 227.83,217.33 227.5,214 C227.17,210.67 226.08,200.58 227.5,197.5Z" fill="#fff" stroke="#000" stroke-width="0.45"/>
<path d="M228.93,198.78 C230.13,196.15 233.67,197.22 236.15,197.07 C238.63,196.93 241.68,197.29 243.8,197.93 C245.93,198.56 247.74,199.34 248.9,200.9 C250.06,202.46 250.77,205.22 250.77,207.28 C250.77,209.33 249.92,211.67 248.9,213.22 C247.88,214.78 246.14,215.39 244.65,216.62 C243.16,217.86 241.39,220.48 239.97,220.62 C238.56,220.76 237.71,218.28 236.15,217.47 C234.59,216.67 231.83,216.55 230.62,215.78 C229.42,215 229.21,215.63 228.93,212.8 C228.64,209.97 227.72,201.4 228.93,198.78Z" fill="#f4f4f4" stroke="#000" stroke-width="0.45"/>
<path d="M230.14,199.86 C231.16,197.63 234.17,198.53 236.28,198.41 C238.38,198.29 240.97,198.59 242.78,199.14 C244.59,199.68 246.13,200.34 247.12,201.66 C248.1,202.99 248.7,205.34 248.7,207.08 C248.7,208.83 247.98,210.82 247.12,212.14 C246.25,213.47 244.77,213.98 243.5,215.03 C242.24,216.08 240.73,218.31 239.53,218.43 C238.32,218.55 237.6,216.44 236.28,215.75 C234.95,215.07 232.6,214.97 231.58,214.31 C230.56,213.65 230.38,214.19 230.14,211.78 C229.9,209.37 229.11,202.09 230.14,199.86Z" fill="#e0e0e0" stroke="#000" stroke-width="0.45"/>
<path d="M231.17,200.78 C232.04,198.89 234.59,199.65 236.39,199.55 C238.18,199.45 240.38,199.71 241.91,200.17 C243.45,200.63 244.76,201.19 245.6,202.32 C246.44,203.44 246.95,205.44 246.95,206.92 C246.95,208.41 246.33,210.09 245.6,211.22 C244.86,212.35 243.6,212.79 242.53,213.68 C241.45,214.57 240.17,216.46 239.15,216.56 C238.13,216.67 237.51,214.87 236.39,214.29 C235.26,213.71 233.26,213.63 232.39,213.06 C231.52,212.5 231.37,212.96 231.17,210.91 C230.96,208.87 230.3,202.67 231.17,200.78Z" fill="#b0b0b0" stroke="#000" stroke-width="0.45"/>
<path d="M232.04,201.56 C232.78,199.95 234.96,200.61 236.48,200.52 C238,200.43 239.87,200.65 241.18,201.04 C242.48,201.43 243.59,201.91 244.31,202.87 C245.02,203.82 245.46,205.52 245.46,206.78 C245.46,208.04 244.93,209.48 244.31,210.44 C243.68,211.39 242.61,211.77 241.7,212.53 C240.78,213.28 239.7,214.89 238.83,214.98 C237.96,215.07 237.44,213.54 236.48,213.05 C235.52,212.55 233.82,212.48 233.08,212 C232.35,211.52 232.21,211.92 232.04,210.18 C231.87,208.44 231.3,203.17 232.04,201.56Z" fill="#606060" stroke="#000" stroke-width="0.45"/>
<path d="M232.78,202.23 C233.41,200.86 235.26,201.42 236.56,201.34 C237.85,201.27 239.44,201.45 240.55,201.78 C241.66,202.12 242.61,202.52 243.21,203.34 C243.82,204.15 244.19,205.59 244.19,206.67 C244.19,207.74 243.74,208.96 243.21,209.77 C242.68,210.58 241.77,210.9 240.99,211.55 C240.22,212.19 239.29,213.56 238.55,213.63 C237.81,213.71 237.37,212.41 236.56,211.99 C235.74,211.57 234.3,211.51 233.67,211.1 C233.04,210.7 232.93,211.03 232.78,209.55 C232.64,208.07 232.16,203.6 232.78,202.23Z" fill="#2a2a2a" stroke="#000" stroke-width="0.45"/>
<path d="M233.42,202.79 C233.95,201.63 235.52,202.1 236.62,202.04 C237.72,201.98 239.07,202.13 240.02,202.42 C240.96,202.7 241.76,203.05 242.28,203.74 C242.8,204.43 243.11,205.65 243.11,206.57 C243.11,207.48 242.73,208.51 242.28,209.21 C241.83,209.9 241.05,210.17 240.39,210.71 C239.73,211.26 238.95,212.42 238.32,212.49 C237.69,212.55 237.31,211.45 236.62,211.09 C235.93,210.73 234.71,210.68 234.17,210.34 C233.64,209.99 233.54,210.27 233.42,209.02 C233.29,207.76 232.88,203.96 233.42,202.79Z" fill="#111" stroke="#000" stroke-width="0.45"/>
<path d="M233.95,203.28 C234.41,202.29 235.74,202.69 236.68,202.63 C237.61,202.58 238.76,202.71 239.56,202.95 C240.37,203.19 241.05,203.49 241.49,204.08 C241.93,204.66 242.19,205.71 242.19,206.48 C242.19,207.26 241.87,208.14 241.49,208.72 C241.1,209.31 240.45,209.54 239.89,210.01 C239.32,210.47 238.66,211.46 238.12,211.51 C237.59,211.57 237.27,210.63 236.68,210.33 C236.09,210.02 235.05,209.98 234.6,209.69 C234.14,209.39 234.06,209.63 233.95,208.56 C233.85,207.5 233.5,204.26 233.95,203.28Z" fill="#000" stroke="#000" stroke-width="0.45"/>
<ellipse cx="277.7" cy="227.5" rx="4.6" ry="5.8" fill="#fff" stroke="#000" stroke-width="0.55" opacity="1"/>
<ellipse cx="278.2" cy="228" rx="2" ry="2.5" fill="none" stroke="#000" stroke-width="0.5" opacity="1"/>
<circle cx="249.04" cy="229.18" r="0.35" fill="#c8c8c8"/>
<circle cx="255.93" cy="226.83" r="0.35" fill="#c8c8c8"/>
<circle cx="236" cy="229.73" r="0.35" fill="#c8c8c8"/>
<circle cx="252.14" cy="245.1" r="0.35" fill="#c8c8c8"/>
<circle cx="244.22" cy="227.02" r="0.35" fill="#c8c8c8"/>
<circle cx="240" cy="241.95" r="0.35" fill="#c8c8c8"/>
<circle cx="229.62" cy="247.87" r="0.35" fill="#c8c8c8"/>
<circle cx="251.56" cy="248.16" r="0.35" fill="#c8c8c8"/>
<circle cx="247.56" cy="239.68" r="0.35" fill="#c8c8c8"/>
<circle cx="255.3" cy="230.21" r="0.35" fill="#c8c8c8"/>
<circle cx="236.56" cy="226.33" r="0.35" fill="#c8c8c8"/>
<circle cx="233.05" cy="244.56" r="0.35" fill="#c8c8c8"/>
<circle cx="230.67" cy="243.09" r="0.35" fill="#c8c8c8"/>
<circle cx="239.1" cy="246.7" r="0.35" fill="#c8c8c8"/>
<circle cx="249.27" cy="241.54" r="0.35" fill="#c8c8c8"/>
<circle cx="251.66" cy="224.15" r="0.35" fill="#c8c8c8"/>
<circle cx="235.43" cy="232.95" r="0.35" fill="#c8c8c8"/>
<circle cx="240.02" cy="241.1" r="0.35" fill="#c8c8c8"/>
<circle cx="252.62" cy="242.98" r="0.35" fill="#c8c8c8"/>
<circle cx="254" cy="241.79" r="0.35" fill="#c8c8c8"/>
<rect x="226.8" y="183.7" width="68.5" height="69.4" fill="none" stroke="#000" stroke-width="1.1"/>
<line x1="226.8" y1="220.8" x2="295.3" y2="220.8" stroke="#000" stroke-width="1.0"/>
<line x1="257.6" y1="220.8" x2="257.6" y2="253.1" stroke="#000" stroke-width="1.0"/>
<text x="203.2" y="191.4" font-size="7.9" font-weight="bold" text-anchor="start" >CD3</text>
<text x="272.6" y="266.7" font-size="8.2" font-weight="bold" letter-spacing="0.6">B220</text>
<text x="0" y="0" font-size="4.8" transform="translate(225.5 247.55) rotate(-90)" text-anchor="middle">0.1</text>
<line x1="224.2" y1="252.95" x2="226" y2="252.95" stroke="#000" stroke-width="0.45"/>
<text x="0" y="0" font-size="4.8" transform="translate(225.5 234.36) rotate(-90)" text-anchor="middle">1</text>
<line x1="224.2" y1="236.96" x2="226" y2="236.96" stroke="#000" stroke-width="0.45"/>
<text x="0" y="0" font-size="4.8" transform="translate(225.5 213.89) rotate(-90)" text-anchor="middle">10</text>
<line x1="224.2" y1="217.89" x2="226" y2="217.89" stroke="#000" stroke-width="0.45"/>
<text x="0" y="0" font-size="4.8" transform="translate(225.5 195.5) rotate(-90)" text-anchor="middle">100</text>
<line x1="224.2" y1="200.9" x2="226" y2="200.9" stroke="#000" stroke-width="0.45"/>
<text x="232.19" y="257.8" font-size="4.9" font-weight="normal" text-anchor="middle" >0.1</text>
<line x1="226.89" y1="254.1" x2="226.89" y2="257.3" stroke="#000" stroke-width="0.45"/>
<text x="245.9" y="257.8" font-size="4.9" font-weight="normal" text-anchor="middle" >1</text>
<line x1="243.19" y1="254.1" x2="243.19" y2="257.3" stroke="#000" stroke-width="0.45"/>
<text x="263.71" y="257.8" font-size="4.9" font-weight="normal" text-anchor="middle" >10</text>
<line x1="259.7" y1="254.1" x2="259.7" y2="257.3" stroke="#000" stroke-width="0.45"/>
<text x="281.52" y="257.8" font-size="4.9" font-weight="normal" text-anchor="middle" >100</text>
<line x1="276.22" y1="254.1" x2="276.22" y2="257.3" stroke="#000" stroke-width="0.45"/>
<text x="294.19" y="257.8" font-size="4.9" font-weight="normal" text-anchor="middle" >1</text>
<line x1="291.49" y1="254.1" x2="291.49" y2="257.3" stroke="#000" stroke-width="0.45"/>
<text x="249.8" y="194.6" font-size="9.5" font-weight="bold" text-anchor="start" >96.2%</text>
<text x="231" y="251.2" font-size="9.5" font-weight="bold" text-anchor="start" >0.5%</text>
<text x="266" y="251.2" font-size="9.5" font-weight="bold" text-anchor="start" >3.3%</text>
</svg>
</body></html>
